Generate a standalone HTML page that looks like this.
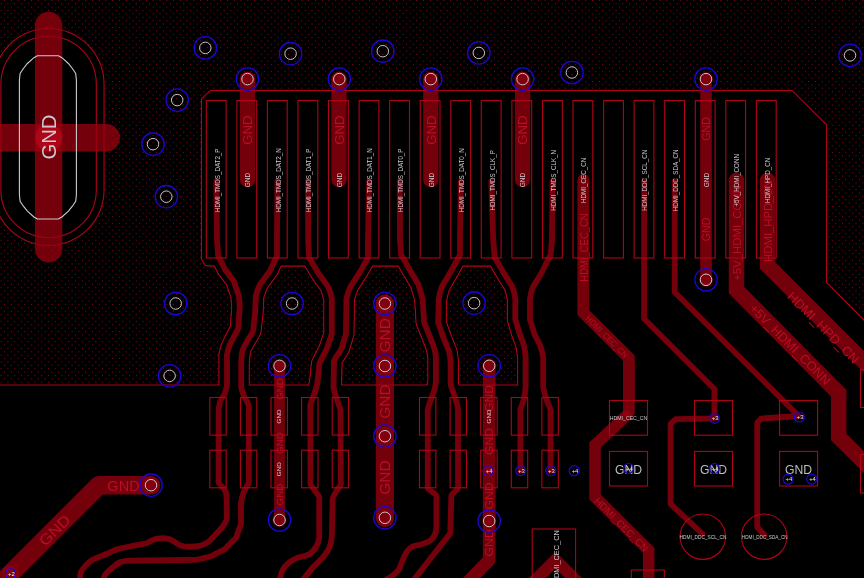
<!DOCTYPE html><html><head><meta charset="utf-8"><style>html,body{margin:0;padding:0;background:#000;overflow:hidden}svg{display:block;will-change:transform}text{font-family:"Liberation Sans",sans-serif}</style></head><body>
<svg width="864" height="578" viewBox="0 0 864 578">
<defs>
<mask id="zc" maskUnits="userSpaceOnUse" x="0" y="0" width="864" height="578"><polygon points="-5.0,-5.0 869.0,-5.0 869.0,325.9 826.0,282.8 826.0,125.0 791.9,91.0 210.6,91.0 202.0,99.2 202.0,259.0 205.5,264.9 213.0,265.6 494.7,265.6 503.5,272.4 512.4,287.0 515.3,298.8 515.3,319.4 519.7,334.0 524.0,346.0 525.6,357.6 525.6,387.0 525.6,385.6 -5.0,385.6" fill="#fff"/></mask>
</defs>
<rect width="864" height="578" fill="#000"/>
<g mask="url(#zc)">
<path d="M-2.71,0.40H870M0.67,3.78H870M-2.71,7.16H870M0.67,10.54H870M-2.71,13.92H870M0.67,17.29H870M-2.71,20.67H870M0.67,24.05H870M-2.71,27.43H870M0.67,30.81H870M-2.71,34.19H870M0.67,37.57H870M-2.71,40.95H870M0.67,44.33H870M-2.71,47.71H870M0.67,51.09H870M-2.71,54.46H870M0.67,57.84H870M-2.71,61.22H870M0.67,64.60H870M-2.71,67.98H870M0.67,71.36H870M-2.71,74.74H870M0.67,78.12H870M-2.71,81.50H870M0.67,84.88H870M-2.71,88.25H870M0.67,91.63H870M-2.71,95.01H870M0.67,98.39H870M-2.71,101.77H870M0.67,105.15H870M-2.71,108.53H870M0.67,111.91H870M-2.71,115.29H870M0.67,118.67H870M-2.71,122.04H870M0.67,125.42H870M-2.71,128.80H870M0.67,132.18H870M-2.71,135.56H870M0.67,138.94H870M-2.71,142.32H870M0.67,145.70H870M-2.71,149.08H870M0.67,152.46H870M-2.71,155.83H870M0.67,159.21H870M-2.71,162.59H870M0.67,165.97H870M-2.71,169.35H870M0.67,172.73H870M-2.71,176.11H870M0.67,179.49H870M-2.71,182.87H870M0.67,186.25H870M-2.71,189.62H870M0.67,193.00H870M-2.71,196.38H870M0.67,199.76H870M-2.71,203.14H870M0.67,206.52H870M-2.71,209.90H870M0.67,213.28H870M-2.71,216.66H870M0.67,220.03H870M-2.71,223.41H870M0.67,226.79H870M-2.71,230.17H870M0.67,233.55H870M-2.71,236.93H870M0.67,240.31H870M-2.71,243.69H870M0.67,247.07H870M-2.71,250.45H870M0.67,253.83H870M-2.71,257.20H870M0.67,260.58H870M-2.71,263.96H870M0.67,267.34H870M-2.71,270.72H870M0.67,274.10H870M-2.71,277.48H870M0.67,280.86H870M-2.71,284.24H870M0.67,287.61H870M-2.71,290.99H870M0.67,294.37H870M-2.71,297.75H870M0.67,301.13H870M-2.71,304.51H870M0.67,307.89H870M-2.71,311.27H870M0.67,314.65H870M-2.71,318.03H870M0.67,321.40H870M-2.71,324.78H870M0.67,328.16H870M-2.71,331.54H870M0.67,334.92H870M-2.71,338.30H870M0.67,341.68H870M-2.71,345.06H870M0.67,348.44H870M-2.71,351.82H870M0.67,355.19H870M-2.71,358.57H870M0.67,361.95H870M-2.71,365.33H870M0.67,368.71H870M-2.71,372.09H870M0.67,375.47H870M-2.71,378.85H870M0.67,382.23H870M-2.71,385.61H870M0.67,388.98H870M-2.71,392.36H870M0.67,395.74H870M-2.71,399.12H870" fill="none" stroke="rgb(140,5,30)" stroke-width="1" stroke-dasharray="1 5.758"/>
<polygon points="-5.0,-5.0 869.0,-5.0 869.0,325.9 826.0,282.8 826.0,125.0 791.9,91.0 210.6,91.0 202.0,99.2 202.0,259.0 205.5,264.9 213.0,265.6 494.7,265.6 503.5,272.4 512.4,287.0 515.3,298.8 515.3,319.4 519.7,334.0 524.0,346.0 525.6,357.6 525.6,387.0 525.6,385.6 -5.0,385.6" fill="none" stroke="rgb(175,4,24)" stroke-width="2.2"/>
<path d="M216.30,181.50C216.31,182.67 216.32,183.15 216.34,185.00C216.43,192.10 216.87,229.40 216.96,236.50C216.98,238.35 216.95,238.84 217.00,240.00C217.05,241.16 217.15,242.06 217.26,243.49C217.43,245.80 217.77,250.20 217.94,252.51C218.05,253.94 217.89,254.90 218.20,256.00C218.51,257.10 219.15,257.87 219.78,259.12C220.75,261.02 222.45,264.38 223.42,266.28C224.05,267.53 224.39,268.41 225.00,269.40C225.61,270.39 226.26,271.09 227.09,272.21C228.33,273.87 230.47,276.73 231.71,278.39C232.54,279.51 233.26,280.18 233.80,281.20C234.34,282.22 234.47,283.17 234.93,284.51C235.64,286.62 236.96,290.48 237.67,292.59C238.13,293.93 238.50,294.43 238.80,295.90C239.35,298.59 239.69,304.84 239.70,307.60C239.70,309.10 239.56,309.55 239.45,311.09C239.22,314.14 238.68,321.66 238.45,324.71C238.34,326.25 238.58,326.82 238.20,328.20C237.56,330.52 235.26,334.06 233.80,337.00C232.33,339.96 230.54,342.89 229.40,345.90C228.30,348.79 227.31,352.41 227.00,354.70C226.81,356.12 227.00,356.53 227.00,358.20C227.00,362.42 227.00,376.28 227.00,380.50C227.00,382.17 227.16,382.57 227.00,384.00C226.75,386.32 226.10,390.24 225.00,393.00C223.94,395.65 221.66,397.59 220.60,400.30C219.46,403.22 218.85,407.56 218.60,410.00C218.45,411.45 218.60,411.61 218.60,413.50C218.60,421.68 218.60,470.62 218.60,478.80C218.60,480.69 218.15,480.94 218.60,482.30C219.42,484.77 224.15,488.14 225.50,491.60C226.84,495.04 226.56,500.29 226.70,503.00C226.78,504.50 226.70,505.05 226.70,506.50C226.70,508.87 226.70,513.53 226.70,515.90C226.70,517.35 227.06,518.05 226.70,519.40C226.11,521.61 223.40,525.60 222.00,527.50C221.15,528.66 220.65,528.96 219.63,530.08C217.76,532.11 213.54,536.69 211.67,538.72C210.65,539.84 210.43,540.44 209.30,541.30C207.48,542.69 204.37,544.58 201.20,545.50C197.28,546.64 191.12,546.86 187.30,546.70C184.59,546.58 182.53,546.30 180.40,545.50C178.30,544.72 176.55,543.09 174.60,542.00C172.68,540.93 171.15,539.61 168.80,539.00C165.67,538.18 160.37,538.13 157.20,538.60C154.90,538.95 153.19,539.79 151.40,540.60C149.74,541.35 148.26,542.67 146.80,543.20C145.61,543.63 144.75,543.58 143.36,543.84C141.23,544.24 137.37,544.96 135.24,545.36C133.85,545.62 132.94,545.77 131.80,546.00C130.66,546.23 129.72,546.45 128.38,546.74C126.45,547.16 123.25,547.84 121.32,548.26C119.98,548.55 119.35,548.54 117.90,549.00C115.15,549.88 108.97,552.86 106.30,554.00C104.89,554.60 104.37,554.82 103.08,555.37C101.11,556.20 97.59,557.70 95.62,558.53C94.33,559.08 93.61,559.16 92.40,559.90C90.46,561.08 87.45,563.44 85.50,565.60C83.61,567.69 81.77,569.96 80.80,572.60C79.77,575.39 80.07,578.87 79.70,582.00" fill="none" stroke="rgb(175,4,24)" stroke-width="16.8" stroke-linejoin="round" stroke-linecap="round"/>
<path d="M277.40,181.50C277.39,182.67 277.39,183.15 277.38,185.00C277.33,192.10 277.07,229.40 277.02,236.50C277.01,238.35 277.00,238.83 277.00,240.00C277.00,241.17 277.00,242.06 277.00,243.50C277.00,245.80 277.00,250.20 277.00,252.50C277.00,253.94 277.25,254.89 277.00,256.00C276.75,257.11 276.13,257.85 275.51,259.17C274.50,261.33 272.50,265.57 271.49,267.73C270.87,269.05 270.59,269.90 270.00,270.90C269.41,271.90 268.79,272.55 267.93,273.72C266.52,275.63 263.78,279.37 262.37,281.28C261.51,282.45 261.02,282.77 260.30,284.10C258.93,286.64 256.48,293.18 255.90,296.00C255.60,297.48 255.80,298.02 255.72,299.50C255.59,302.06 255.31,307.44 255.18,310.00C255.10,311.48 255.10,312.34 255.00,313.50C254.90,314.66 254.77,315.50 254.61,316.98C254.31,319.58 253.69,325.12 253.39,327.72C253.23,329.20 253.47,329.79 253.00,331.20C252.14,333.79 248.80,338.17 247.00,341.50C245.37,344.52 243.57,346.97 242.60,350.30C241.47,354.17 241.36,360.51 241.20,363.50C241.12,365.04 241.20,365.40 241.20,367.00C241.20,370.47 241.20,380.03 241.20,383.50C241.20,385.10 240.98,385.58 241.20,387.00C241.55,389.33 242.80,393.08 244.00,396.00C245.22,398.98 247.79,402.09 248.50,404.70C249.03,406.62 248.76,408.42 248.80,410.00C248.84,411.29 248.80,411.61 248.80,413.50C248.80,421.68 248.80,470.62 248.80,478.80C248.80,480.69 249.14,480.90 248.80,482.30C248.21,484.71 245.28,488.27 244.00,491.60C242.64,495.14 241.35,500.27 241.00,503.00C240.81,504.49 241.00,504.94 241.00,506.50C241.00,509.61 241.00,517.39 241.00,520.50C241.00,522.06 241.20,522.87 241.00,524.00C240.80,525.13 240.29,525.98 239.82,527.29C239.11,529.25 237.89,532.65 237.18,534.61C236.71,535.92 236.61,536.94 236.00,537.90C235.39,538.86 234.54,539.35 233.51,540.36C231.84,542.03 228.56,545.27 226.89,546.94C225.86,547.95 225.34,548.73 224.40,549.40C223.46,550.07 222.55,550.33 221.27,550.97C219.29,551.98 215.61,553.82 213.63,554.83C212.35,555.47 211.59,556.00 210.50,556.40C209.41,556.80 208.44,556.92 207.11,557.25C205.17,557.74 201.93,558.56 199.99,559.05C198.66,559.38 197.75,559.75 196.60,559.90C195.45,560.05 194.98,559.92 193.10,559.94C185.30,560.02 140.70,560.48 132.90,560.56C131.02,560.58 130.84,560.47 129.40,560.60C127.05,560.81 123.06,561.01 120.20,562.20C117.24,563.43 114.54,565.86 112.00,568.00C109.48,570.13 106.54,572.46 105.00,575.00C103.68,577.18 103.53,579.67 102.80,582.00" fill="none" stroke="rgb(175,4,24)" stroke-width="16.8" stroke-linejoin="round" stroke-linecap="round"/>
<path d="M308.00,181.50C308.00,182.67 308.01,183.15 308.01,185.00C308.04,192.10 308.16,229.40 308.19,236.50C308.19,238.35 308.17,238.83 308.20,240.00C308.23,241.17 308.30,242.01 308.38,243.50C308.51,246.07 308.79,251.53 308.92,254.10C309.00,255.59 308.77,256.52 309.10,257.60C309.43,258.68 310.14,259.34 310.89,260.61C312.17,262.77 314.83,267.23 316.11,269.39C316.86,270.66 317.27,271.42 317.90,272.40C318.53,273.38 319.06,274.04 319.92,275.26C321.43,277.40 324.67,282.00 326.18,284.14C327.04,285.36 327.54,285.65 328.20,287.00C329.44,289.53 331.38,296.00 331.80,298.80C332.02,300.29 331.80,300.57 331.80,302.30C331.80,307.20 331.80,325.60 331.80,330.50C331.80,332.23 331.99,332.86 331.80,334.00C331.61,335.14 331.14,335.97 330.68,337.32C329.96,339.44 328.64,343.36 327.92,345.48C327.46,346.83 327.25,347.73 326.80,348.80C326.35,349.87 325.88,350.63 325.23,351.93C324.15,354.06 322.05,358.24 320.97,360.37C320.32,361.67 319.72,362.40 319.40,363.50C319.08,364.60 319.20,365.59 319.07,366.98C318.87,369.05 318.53,372.65 318.33,374.72C318.20,376.11 318.19,376.78 318.00,378.20C317.70,380.47 317.23,384.09 316.50,387.00C315.75,389.99 314.53,392.92 313.50,395.90C312.46,398.92 310.70,402.65 310.30,405.00C310.06,406.41 310.30,406.59 310.31,408.50C310.33,417.17 310.47,471.83 310.49,480.50C310.50,482.41 310.09,482.67 310.50,484.00C311.17,486.19 314.23,489.55 315.80,491.90C317.06,493.78 318.71,495.39 319.20,497.00C319.57,498.22 319.20,498.74 319.20,500.50C319.20,505.97 319.20,528.63 319.20,534.10C319.20,535.86 319.41,536.20 319.20,537.60C318.86,539.82 318.10,543.35 316.60,546.00C314.89,549.02 312.16,552.52 309.00,554.50C305.71,556.56 300.64,556.36 297.10,557.90C293.93,559.28 291.04,560.95 288.60,563.00C286.28,564.95 284.19,567.06 282.70,569.80C281.01,572.92 280.57,577.27 279.50,581.00" fill="none" stroke="rgb(175,4,24)" stroke-width="16.8" stroke-linejoin="round" stroke-linecap="round"/>
<path d="M369.10,181.50C369.08,182.67 369.07,183.15 369.03,185.00C368.90,192.10 368.20,229.40 368.07,236.50C368.03,238.35 368.01,238.83 368.00,240.00C367.99,241.17 368.00,242.02 368.00,243.50C368.00,246.08 368.00,251.52 368.00,254.10C368.00,255.58 368.28,256.51 368.00,257.60C367.72,258.69 366.98,259.42 366.30,260.66C365.25,262.55 363.35,265.95 362.30,267.84C361.62,269.08 361.20,269.90 360.60,270.90C360.00,271.90 359.53,272.57 358.71,273.85C357.19,276.23 353.71,281.67 352.19,284.05C351.37,285.33 350.94,285.63 350.30,287.00C349.09,289.57 346.96,296.00 346.50,298.80C346.25,300.29 346.47,300.57 346.44,302.30C346.36,307.20 346.04,325.60 345.96,330.50C345.93,332.23 346.08,332.86 345.90,334.00C345.72,335.14 345.31,335.99 344.90,337.35C344.27,339.47 343.13,343.33 342.50,345.45C342.09,346.81 342.13,347.40 341.50,348.80C340.23,351.60 334.96,357.74 334.10,360.60C333.67,362.04 334.06,362.46 334.02,364.10C333.93,367.95 333.67,379.65 333.58,383.50C333.54,385.14 333.35,385.58 333.50,387.00C333.74,389.30 334.75,393.03 335.60,395.90C336.43,398.69 337.64,401.50 338.50,404.00C339.24,406.15 340.21,408.25 340.50,410.00C340.71,411.30 340.51,411.60 340.51,413.50C340.55,421.81 340.75,472.19 340.79,480.50C340.79,482.40 341.17,482.66 340.80,484.00C340.20,486.18 337.40,489.34 336.00,491.90C334.74,494.20 333.17,496.68 332.70,498.60C332.38,499.91 332.66,500.35 332.62,502.10C332.50,507.40 332.00,528.80 331.88,534.10C331.84,535.85 331.99,536.14 331.80,537.60C331.47,540.13 330.75,544.53 329.30,547.80C327.74,551.32 324.29,555.72 322.50,557.90C321.54,559.07 321.00,559.40 320.03,560.37C318.62,561.78 316.28,564.12 314.87,565.53C313.90,566.50 313.18,567.13 312.40,568.00C311.62,568.87 311.12,569.60 310.21,570.73C308.70,572.62 305.70,576.38 304.19,578.27C303.28,579.40 302.73,580.09 302.00,581.00" fill="none" stroke="rgb(175,4,24)" stroke-width="16.8" stroke-linejoin="round" stroke-linecap="round"/>
<path d="M399.70,181.50C399.71,182.67 399.71,183.15 399.72,185.00C399.75,192.10 399.95,229.40 399.98,236.50C399.99,238.35 399.95,238.84 400.00,240.00C400.05,241.16 400.17,242.10 400.28,243.49C400.45,245.56 400.75,249.14 400.92,251.21C401.03,252.60 400.87,253.61 401.20,254.70C401.53,255.79 402.19,256.48 402.91,257.76C404.10,259.90 406.50,264.20 407.69,266.34C408.41,267.62 408.82,268.39 409.40,269.40C409.98,270.41 410.44,271.14 411.20,272.40C412.48,274.55 415.12,278.95 416.40,281.10C417.16,282.36 417.73,283.04 418.20,284.10C418.67,285.16 418.80,286.10 419.20,287.45C419.83,289.55 420.97,293.35 421.60,295.45C422.00,296.80 422.40,297.66 422.60,298.80C422.80,299.94 422.72,300.70 422.82,302.29C423.04,305.77 423.66,315.43 423.88,318.91C423.98,320.50 423.84,321.28 424.10,322.40C424.36,323.52 424.88,324.32 425.41,325.65C426.26,327.74 427.84,331.66 428.69,333.75C429.22,335.08 429.45,335.58 430.00,337.00C431.05,339.70 433.41,345.11 434.40,348.80C435.24,351.91 435.71,355.32 435.90,357.60C436.02,359.02 435.90,359.50 435.90,361.10C435.90,364.58 435.90,374.22 435.90,377.70C435.90,379.30 436.02,379.78 435.90,381.20C435.71,383.48 435.20,386.99 434.40,390.00C433.51,393.34 431.72,396.90 430.60,400.30C429.53,403.56 428.15,407.55 427.80,410.00C427.60,411.44 427.80,411.59 427.80,413.50C427.80,422.10 427.80,475.90 427.80,484.50C427.80,486.41 427.24,486.75 427.80,488.00C428.82,490.28 435.38,493.42 436.40,495.70C436.96,496.95 436.40,497.50 436.40,499.20C436.40,503.81 436.40,520.19 436.40,524.80C436.40,526.50 436.58,526.96 436.40,528.30C436.15,530.19 435.56,532.99 434.60,535.00C433.67,536.94 432.64,538.75 430.80,540.20C428.40,542.09 423.95,543.27 420.70,544.40C417.78,545.42 414.56,545.53 412.20,546.80C410.14,547.91 408.56,549.31 407.10,551.20C405.37,553.44 404.27,556.72 402.90,559.70C401.43,562.90 400.38,567.13 398.60,569.80C397.16,571.95 395.65,573.24 393.60,574.90C391.01,577.00 387.20,578.97 384.00,581.00" fill="none" stroke="rgb(175,4,24)" stroke-width="16.8" stroke-linejoin="round" stroke-linecap="round"/>
<path d="M460.80,181.50C460.78,182.67 460.78,183.15 460.75,185.00C460.66,192.10 460.14,229.40 460.05,236.50C460.02,238.35 460.01,238.83 460.00,240.00C459.99,241.17 460.00,242.11 460.00,243.50C460.00,245.57 460.00,249.13 460.00,251.20C460.00,252.59 460.28,253.60 460.00,254.70C459.72,255.80 459.02,256.49 458.33,257.77C457.16,259.91 454.84,264.19 453.67,266.33C452.98,267.61 452.57,268.38 452.00,269.40C451.43,270.42 451.02,271.09 450.25,272.43C448.73,275.03 445.07,281.37 443.55,283.97C442.78,285.31 442.37,285.61 441.80,287.00C440.74,289.60 439.19,296.01 438.80,298.80C438.59,300.30 438.75,300.70 438.71,302.30C438.62,305.78 438.38,315.42 438.29,318.90C438.25,320.50 438.03,321.26 438.20,322.40C438.37,323.54 438.87,324.37 439.33,325.71C440.05,327.80 441.35,331.60 442.07,333.69C442.53,335.03 442.79,335.91 443.20,337.00C443.61,338.09 443.96,338.92 444.50,340.25C445.35,342.38 446.95,346.42 447.80,348.55C448.34,349.88 448.72,350.35 449.10,351.80C449.79,354.46 450.42,360.74 450.60,363.50C450.70,365.00 450.60,365.45 450.60,367.00C450.60,370.04 450.60,377.46 450.60,380.50C450.60,382.05 450.38,382.58 450.60,384.00C450.97,386.33 452.49,389.85 453.50,393.00C454.61,396.48 456.24,400.86 457.00,404.00C457.55,406.28 457.86,408.26 458.00,410.00C458.11,411.32 458.00,411.59 458.00,413.50C458.00,422.10 458.00,475.90 458.00,484.50C458.00,486.41 458.48,486.71 458.00,488.00C457.19,490.20 452.25,493.50 451.40,495.70C450.90,496.99 451.34,497.45 451.29,499.20C451.12,504.36 450.48,524.74 450.31,529.90C450.26,531.65 450.58,532.36 450.20,533.40C449.82,534.44 449.19,534.69 448.04,536.15C443.48,541.95 418.72,573.45 414.16,579.25C413.01,580.71 412.72,581.08 412.00,582.00" fill="none" stroke="rgb(175,4,24)" stroke-width="16.8" stroke-linejoin="round" stroke-linecap="round"/>
<path d="M491.30,181.50C491.34,182.67 491.35,183.15 491.41,185.00C491.64,192.10 492.86,229.40 493.09,236.50C493.15,238.35 493.13,238.84 493.20,240.00C493.27,241.16 493.37,242.01 493.50,243.49C493.72,246.07 494.18,251.53 494.40,254.11C494.53,255.59 494.35,256.52 494.70,257.60C495.05,258.68 495.74,259.34 496.49,260.61C497.77,262.77 500.43,267.23 501.71,269.39C502.46,270.66 502.90,271.40 503.50,272.40C504.10,273.40 504.56,274.13 505.32,275.39C506.62,277.52 509.28,281.88 510.58,284.01C511.34,285.27 511.82,285.61 512.40,287.00C513.47,289.58 514.96,296.01 515.30,298.80C515.48,300.30 515.30,300.75 515.30,302.30C515.30,305.35 515.30,312.85 515.30,315.90C515.30,317.45 515.13,318.26 515.30,319.40C515.47,320.54 515.90,321.40 516.31,322.75C516.94,324.83 518.06,328.57 518.69,330.65C519.10,332.00 519.22,332.55 519.70,334.00C520.61,336.77 523.01,341.98 524.00,346.00C524.94,349.85 525.41,354.85 525.60,357.60C525.70,359.10 525.60,359.43 525.60,361.10C525.60,365.33 525.60,379.27 525.60,383.50C525.60,385.17 525.70,385.49 525.60,387.00C525.41,389.78 524.87,394.96 524.00,398.80C523.13,402.62 520.82,407.30 520.40,410.00C520.17,411.47 520.40,411.64 520.40,413.50C520.40,420.81 520.40,460.19 520.40,467.50C520.40,469.36 520.40,469.83 520.40,471.00" fill="none" stroke="rgb(175,4,24)" stroke-width="16.8" stroke-linejoin="round" stroke-linecap="round"/>
<path d="M552.50,181.50C552.49,182.67 552.49,183.15 552.47,185.00C552.41,192.10 552.09,229.40 552.03,236.50C552.01,238.35 552.06,238.84 552.00,240.00C551.94,241.16 551.80,242.09 551.67,243.48C551.47,245.55 551.13,249.15 550.93,251.22C550.80,252.61 550.91,253.60 550.60,254.70C550.29,255.80 549.72,256.46 549.04,257.83C547.74,260.45 544.66,266.65 543.36,269.27C542.68,270.64 542.36,271.38 541.80,272.40C541.24,273.42 540.75,274.14 539.99,275.40C538.71,277.53 536.09,281.87 534.81,284.00C534.05,285.26 533.58,285.61 533.00,287.00C531.92,289.59 530.35,296.01 530.00,298.80C529.81,300.30 530.00,300.75 530.00,302.30C530.00,305.35 530.00,312.85 530.00,315.90C530.00,317.45 529.83,318.26 530.00,319.40C530.17,320.54 530.60,321.40 531.01,322.75C531.64,324.83 532.76,328.57 533.39,330.65C533.80,332.00 533.84,332.57 534.40,334.00C535.50,336.80 538.82,341.95 540.30,346.00C541.70,349.83 542.86,354.84 543.20,357.60C543.38,359.09 543.20,359.43 543.20,361.10C543.20,365.33 543.20,379.27 543.20,383.50C543.20,385.17 543.01,385.50 543.20,387.00C543.55,389.79 544.98,394.95 546.20,398.80C547.41,402.62 550.00,407.29 550.50,410.00C550.77,411.46 550.50,411.64 550.50,413.50C550.50,420.81 550.50,460.19 550.50,467.50C550.50,469.36 550.50,469.83 550.50,471.00" fill="none" stroke="rgb(175,4,24)" stroke-width="16.8" stroke-linejoin="round" stroke-linecap="round"/>
<polyline points="644.1,181.5 644.1,318.7 714.4,389.0 714.4,418.3 675.8,419.2 670.6,424.0 670.6,504.0 702.5,534.0" fill="none" stroke="rgb(175,4,24)" stroke-width="16.8" stroke-linejoin="round" stroke-linecap="round"/>
<polyline points="674.7,181.5 674.7,292.2 798.5,416.0 761.0,418.6 757.2,423.0 757.2,527.0 764.5,535.0" fill="none" stroke="rgb(175,4,24)" stroke-width="16.8" stroke-linejoin="round" stroke-linecap="round"/>
<polygon points="218.2,256.0 225.0,269.4 233.8,281.2 238.8,295.9 239.7,307.6 238.2,328.2 233.8,337.0 229.4,345.9 227.0,354.7 227.0,384.0 241.2,387.0 241.2,363.5 242.6,350.3 247.0,341.5 253.0,331.2 255.0,313.5 255.9,296.0 260.3,284.1 270.0,270.9 277.0,256.0" fill="rgb(175,4,24)" stroke="rgb(175,4,24)" stroke-width="16.8" stroke-linejoin="round"/>
<polygon points="309.1,257.6 317.9,272.4 328.2,287.0 331.8,298.8 331.8,334.0 326.8,348.8 319.4,363.5 318.0,378.2 316.5,387.0 333.5,387.0 334.1,360.6 341.5,348.8 345.9,334.0 346.5,298.8 350.3,287.0 360.6,270.9 368.0,257.6" fill="rgb(175,4,24)" stroke="rgb(175,4,24)" stroke-width="16.8" stroke-linejoin="round"/>
<polygon points="401.2,254.7 409.4,269.4 418.2,284.1 422.6,298.8 424.1,322.4 430.0,337.0 434.4,348.8 435.9,357.6 435.9,381.2 434.4,390.0 450.6,384.0 450.6,363.5 449.1,351.8 443.2,337.0 438.2,322.4 438.8,298.8 441.8,287.0 452.0,269.4 460.0,254.7" fill="rgb(175,4,24)" stroke="rgb(175,4,24)" stroke-width="16.8" stroke-linejoin="round"/>
<polygon points="494.7,257.6 503.5,272.4 512.4,287.0 515.3,298.8 515.3,319.4 519.7,334.0 524.0,346.0 525.6,357.6 525.6,387.0 543.2,387.0 543.2,357.6 540.3,346.0 534.4,334.0 530.0,319.4 530.0,298.8 533.0,287.0 541.8,272.4 550.6,254.7" fill="rgb(175,4,24)" stroke="rgb(175,4,24)" stroke-width="16.8" stroke-linejoin="round"/>
<polyline points="583.3,180.0 583.3,312.6 628.9,358.0 628.9,412.0" fill="none" stroke="rgb(175,4,24)" stroke-width="22.8" stroke-linejoin="round" stroke-linecap="round"/>
<polyline points="626.0,416.0 595.0,445.0 595.0,497.0 648.7,550.3 648.7,582.0" fill="none" stroke="rgb(175,4,24)" stroke-width="22.5" stroke-linejoin="round" stroke-linecap="round"/>
<polyline points="529.5,586.0 555.5,560.0 581.5,586.0" fill="none" stroke="rgb(175,4,24)" stroke-width="23.0" stroke-linejoin="round" stroke-linecap="round"/>
<polyline points="736.5,180.6 736.5,290.0 838.7,393.3 838.7,437.0 870.0,468.0" fill="none" stroke="rgb(175,4,24)" stroke-width="26.5" stroke-linejoin="round" stroke-linecap="round"/>
<polyline points="767.6,180.6 767.6,265.5 870.0,367.9" fill="none" stroke="rgb(175,4,24)" stroke-width="26.5" stroke-linejoin="round" stroke-linecap="round"/>
<path d="M-7.399999999999999,84 A56.0,56.0 0 0 1 104.6,84 L104.6,190 A56.0,56.0 0 0 1 -7.399999999999999,190 Z" fill="rgb(175,4,24)"/>
<path d="M216.30,181.50C216.31,182.67 216.32,183.15 216.34,185.00C216.43,192.10 216.87,229.40 216.96,236.50C216.98,238.35 216.95,238.84 217.00,240.00C217.05,241.16 217.15,242.06 217.26,243.49C217.43,245.80 217.77,250.20 217.94,252.51C218.05,253.94 217.89,254.90 218.20,256.00C218.51,257.10 219.15,257.87 219.78,259.12C220.75,261.02 222.45,264.38 223.42,266.28C224.05,267.53 224.39,268.41 225.00,269.40C225.61,270.39 226.26,271.09 227.09,272.21C228.33,273.87 230.47,276.73 231.71,278.39C232.54,279.51 233.26,280.18 233.80,281.20C234.34,282.22 234.47,283.17 234.93,284.51C235.64,286.62 236.96,290.48 237.67,292.59C238.13,293.93 238.50,294.43 238.80,295.90C239.35,298.59 239.69,304.84 239.70,307.60C239.70,309.10 239.56,309.55 239.45,311.09C239.22,314.14 238.68,321.66 238.45,324.71C238.34,326.25 238.58,326.82 238.20,328.20C237.56,330.52 235.26,334.06 233.80,337.00C232.33,339.96 230.54,342.89 229.40,345.90C228.30,348.79 227.31,352.41 227.00,354.70C226.81,356.12 227.00,356.53 227.00,358.20C227.00,362.42 227.00,376.28 227.00,380.50C227.00,382.17 227.16,382.57 227.00,384.00C226.75,386.32 226.10,390.24 225.00,393.00C223.94,395.65 221.66,397.59 220.60,400.30C219.46,403.22 218.85,407.56 218.60,410.00C218.45,411.45 218.60,411.61 218.60,413.50C218.60,421.68 218.60,470.62 218.60,478.80C218.60,480.69 218.15,480.94 218.60,482.30C219.42,484.77 224.15,488.14 225.50,491.60C226.84,495.04 226.56,500.29 226.70,503.00C226.78,504.50 226.70,505.05 226.70,506.50C226.70,508.87 226.70,513.53 226.70,515.90C226.70,517.35 227.06,518.05 226.70,519.40C226.11,521.61 223.40,525.60 222.00,527.50C221.15,528.66 220.65,528.96 219.63,530.08C217.76,532.11 213.54,536.69 211.67,538.72C210.65,539.84 210.43,540.44 209.30,541.30C207.48,542.69 204.37,544.58 201.20,545.50C197.28,546.64 191.12,546.86 187.30,546.70C184.59,546.58 182.53,546.30 180.40,545.50C178.30,544.72 176.55,543.09 174.60,542.00C172.68,540.93 171.15,539.61 168.80,539.00C165.67,538.18 160.37,538.13 157.20,538.60C154.90,538.95 153.19,539.79 151.40,540.60C149.74,541.35 148.26,542.67 146.80,543.20C145.61,543.63 144.75,543.58 143.36,543.84C141.23,544.24 137.37,544.96 135.24,545.36C133.85,545.62 132.94,545.77 131.80,546.00C130.66,546.23 129.72,546.45 128.38,546.74C126.45,547.16 123.25,547.84 121.32,548.26C119.98,548.55 119.35,548.54 117.90,549.00C115.15,549.88 108.97,552.86 106.30,554.00C104.89,554.60 104.37,554.82 103.08,555.37C101.11,556.20 97.59,557.70 95.62,558.53C94.33,559.08 93.61,559.16 92.40,559.90C90.46,561.08 87.45,563.44 85.50,565.60C83.61,567.69 81.77,569.96 80.80,572.60C79.77,575.39 80.07,578.87 79.70,582.00" fill="none" stroke="#000" stroke-width="14.6" stroke-linejoin="round" stroke-linecap="round"/>
<path d="M277.40,181.50C277.39,182.67 277.39,183.15 277.38,185.00C277.33,192.10 277.07,229.40 277.02,236.50C277.01,238.35 277.00,238.83 277.00,240.00C277.00,241.17 277.00,242.06 277.00,243.50C277.00,245.80 277.00,250.20 277.00,252.50C277.00,253.94 277.25,254.89 277.00,256.00C276.75,257.11 276.13,257.85 275.51,259.17C274.50,261.33 272.50,265.57 271.49,267.73C270.87,269.05 270.59,269.90 270.00,270.90C269.41,271.90 268.79,272.55 267.93,273.72C266.52,275.63 263.78,279.37 262.37,281.28C261.51,282.45 261.02,282.77 260.30,284.10C258.93,286.64 256.48,293.18 255.90,296.00C255.60,297.48 255.80,298.02 255.72,299.50C255.59,302.06 255.31,307.44 255.18,310.00C255.10,311.48 255.10,312.34 255.00,313.50C254.90,314.66 254.77,315.50 254.61,316.98C254.31,319.58 253.69,325.12 253.39,327.72C253.23,329.20 253.47,329.79 253.00,331.20C252.14,333.79 248.80,338.17 247.00,341.50C245.37,344.52 243.57,346.97 242.60,350.30C241.47,354.17 241.36,360.51 241.20,363.50C241.12,365.04 241.20,365.40 241.20,367.00C241.20,370.47 241.20,380.03 241.20,383.50C241.20,385.10 240.98,385.58 241.20,387.00C241.55,389.33 242.80,393.08 244.00,396.00C245.22,398.98 247.79,402.09 248.50,404.70C249.03,406.62 248.76,408.42 248.80,410.00C248.84,411.29 248.80,411.61 248.80,413.50C248.80,421.68 248.80,470.62 248.80,478.80C248.80,480.69 249.14,480.90 248.80,482.30C248.21,484.71 245.28,488.27 244.00,491.60C242.64,495.14 241.35,500.27 241.00,503.00C240.81,504.49 241.00,504.94 241.00,506.50C241.00,509.61 241.00,517.39 241.00,520.50C241.00,522.06 241.20,522.87 241.00,524.00C240.80,525.13 240.29,525.98 239.82,527.29C239.11,529.25 237.89,532.65 237.18,534.61C236.71,535.92 236.61,536.94 236.00,537.90C235.39,538.86 234.54,539.35 233.51,540.36C231.84,542.03 228.56,545.27 226.89,546.94C225.86,547.95 225.34,548.73 224.40,549.40C223.46,550.07 222.55,550.33 221.27,550.97C219.29,551.98 215.61,553.82 213.63,554.83C212.35,555.47 211.59,556.00 210.50,556.40C209.41,556.80 208.44,556.92 207.11,557.25C205.17,557.74 201.93,558.56 199.99,559.05C198.66,559.38 197.75,559.75 196.60,559.90C195.45,560.05 194.98,559.92 193.10,559.94C185.30,560.02 140.70,560.48 132.90,560.56C131.02,560.58 130.84,560.47 129.40,560.60C127.05,560.81 123.06,561.01 120.20,562.20C117.24,563.43 114.54,565.86 112.00,568.00C109.48,570.13 106.54,572.46 105.00,575.00C103.68,577.18 103.53,579.67 102.80,582.00" fill="none" stroke="#000" stroke-width="14.6" stroke-linejoin="round" stroke-linecap="round"/>
<path d="M308.00,181.50C308.00,182.67 308.01,183.15 308.01,185.00C308.04,192.10 308.16,229.40 308.19,236.50C308.19,238.35 308.17,238.83 308.20,240.00C308.23,241.17 308.30,242.01 308.38,243.50C308.51,246.07 308.79,251.53 308.92,254.10C309.00,255.59 308.77,256.52 309.10,257.60C309.43,258.68 310.14,259.34 310.89,260.61C312.17,262.77 314.83,267.23 316.11,269.39C316.86,270.66 317.27,271.42 317.90,272.40C318.53,273.38 319.06,274.04 319.92,275.26C321.43,277.40 324.67,282.00 326.18,284.14C327.04,285.36 327.54,285.65 328.20,287.00C329.44,289.53 331.38,296.00 331.80,298.80C332.02,300.29 331.80,300.57 331.80,302.30C331.80,307.20 331.80,325.60 331.80,330.50C331.80,332.23 331.99,332.86 331.80,334.00C331.61,335.14 331.14,335.97 330.68,337.32C329.96,339.44 328.64,343.36 327.92,345.48C327.46,346.83 327.25,347.73 326.80,348.80C326.35,349.87 325.88,350.63 325.23,351.93C324.15,354.06 322.05,358.24 320.97,360.37C320.32,361.67 319.72,362.40 319.40,363.50C319.08,364.60 319.20,365.59 319.07,366.98C318.87,369.05 318.53,372.65 318.33,374.72C318.20,376.11 318.19,376.78 318.00,378.20C317.70,380.47 317.23,384.09 316.50,387.00C315.75,389.99 314.53,392.92 313.50,395.90C312.46,398.92 310.70,402.65 310.30,405.00C310.06,406.41 310.30,406.59 310.31,408.50C310.33,417.17 310.47,471.83 310.49,480.50C310.50,482.41 310.09,482.67 310.50,484.00C311.17,486.19 314.23,489.55 315.80,491.90C317.06,493.78 318.71,495.39 319.20,497.00C319.57,498.22 319.20,498.74 319.20,500.50C319.20,505.97 319.20,528.63 319.20,534.10C319.20,535.86 319.41,536.20 319.20,537.60C318.86,539.82 318.10,543.35 316.60,546.00C314.89,549.02 312.16,552.52 309.00,554.50C305.71,556.56 300.64,556.36 297.10,557.90C293.93,559.28 291.04,560.95 288.60,563.00C286.28,564.95 284.19,567.06 282.70,569.80C281.01,572.92 280.57,577.27 279.50,581.00" fill="none" stroke="#000" stroke-width="14.6" stroke-linejoin="round" stroke-linecap="round"/>
<path d="M369.10,181.50C369.08,182.67 369.07,183.15 369.03,185.00C368.90,192.10 368.20,229.40 368.07,236.50C368.03,238.35 368.01,238.83 368.00,240.00C367.99,241.17 368.00,242.02 368.00,243.50C368.00,246.08 368.00,251.52 368.00,254.10C368.00,255.58 368.28,256.51 368.00,257.60C367.72,258.69 366.98,259.42 366.30,260.66C365.25,262.55 363.35,265.95 362.30,267.84C361.62,269.08 361.20,269.90 360.60,270.90C360.00,271.90 359.53,272.57 358.71,273.85C357.19,276.23 353.71,281.67 352.19,284.05C351.37,285.33 350.94,285.63 350.30,287.00C349.09,289.57 346.96,296.00 346.50,298.80C346.25,300.29 346.47,300.57 346.44,302.30C346.36,307.20 346.04,325.60 345.96,330.50C345.93,332.23 346.08,332.86 345.90,334.00C345.72,335.14 345.31,335.99 344.90,337.35C344.27,339.47 343.13,343.33 342.50,345.45C342.09,346.81 342.13,347.40 341.50,348.80C340.23,351.60 334.96,357.74 334.10,360.60C333.67,362.04 334.06,362.46 334.02,364.10C333.93,367.95 333.67,379.65 333.58,383.50C333.54,385.14 333.35,385.58 333.50,387.00C333.74,389.30 334.75,393.03 335.60,395.90C336.43,398.69 337.64,401.50 338.50,404.00C339.24,406.15 340.21,408.25 340.50,410.00C340.71,411.30 340.51,411.60 340.51,413.50C340.55,421.81 340.75,472.19 340.79,480.50C340.79,482.40 341.17,482.66 340.80,484.00C340.20,486.18 337.40,489.34 336.00,491.90C334.74,494.20 333.17,496.68 332.70,498.60C332.38,499.91 332.66,500.35 332.62,502.10C332.50,507.40 332.00,528.80 331.88,534.10C331.84,535.85 331.99,536.14 331.80,537.60C331.47,540.13 330.75,544.53 329.30,547.80C327.74,551.32 324.29,555.72 322.50,557.90C321.54,559.07 321.00,559.40 320.03,560.37C318.62,561.78 316.28,564.12 314.87,565.53C313.90,566.50 313.18,567.13 312.40,568.00C311.62,568.87 311.12,569.60 310.21,570.73C308.70,572.62 305.70,576.38 304.19,578.27C303.28,579.40 302.73,580.09 302.00,581.00" fill="none" stroke="#000" stroke-width="14.6" stroke-linejoin="round" stroke-linecap="round"/>
<path d="M399.70,181.50C399.71,182.67 399.71,183.15 399.72,185.00C399.75,192.10 399.95,229.40 399.98,236.50C399.99,238.35 399.95,238.84 400.00,240.00C400.05,241.16 400.17,242.10 400.28,243.49C400.45,245.56 400.75,249.14 400.92,251.21C401.03,252.60 400.87,253.61 401.20,254.70C401.53,255.79 402.19,256.48 402.91,257.76C404.10,259.90 406.50,264.20 407.69,266.34C408.41,267.62 408.82,268.39 409.40,269.40C409.98,270.41 410.44,271.14 411.20,272.40C412.48,274.55 415.12,278.95 416.40,281.10C417.16,282.36 417.73,283.04 418.20,284.10C418.67,285.16 418.80,286.10 419.20,287.45C419.83,289.55 420.97,293.35 421.60,295.45C422.00,296.80 422.40,297.66 422.60,298.80C422.80,299.94 422.72,300.70 422.82,302.29C423.04,305.77 423.66,315.43 423.88,318.91C423.98,320.50 423.84,321.28 424.10,322.40C424.36,323.52 424.88,324.32 425.41,325.65C426.26,327.74 427.84,331.66 428.69,333.75C429.22,335.08 429.45,335.58 430.00,337.00C431.05,339.70 433.41,345.11 434.40,348.80C435.24,351.91 435.71,355.32 435.90,357.60C436.02,359.02 435.90,359.50 435.90,361.10C435.90,364.58 435.90,374.22 435.90,377.70C435.90,379.30 436.02,379.78 435.90,381.20C435.71,383.48 435.20,386.99 434.40,390.00C433.51,393.34 431.72,396.90 430.60,400.30C429.53,403.56 428.15,407.55 427.80,410.00C427.60,411.44 427.80,411.59 427.80,413.50C427.80,422.10 427.80,475.90 427.80,484.50C427.80,486.41 427.24,486.75 427.80,488.00C428.82,490.28 435.38,493.42 436.40,495.70C436.96,496.95 436.40,497.50 436.40,499.20C436.40,503.81 436.40,520.19 436.40,524.80C436.40,526.50 436.58,526.96 436.40,528.30C436.15,530.19 435.56,532.99 434.60,535.00C433.67,536.94 432.64,538.75 430.80,540.20C428.40,542.09 423.95,543.27 420.70,544.40C417.78,545.42 414.56,545.53 412.20,546.80C410.14,547.91 408.56,549.31 407.10,551.20C405.37,553.44 404.27,556.72 402.90,559.70C401.43,562.90 400.38,567.13 398.60,569.80C397.16,571.95 395.65,573.24 393.60,574.90C391.01,577.00 387.20,578.97 384.00,581.00" fill="none" stroke="#000" stroke-width="14.6" stroke-linejoin="round" stroke-linecap="round"/>
<path d="M460.80,181.50C460.78,182.67 460.78,183.15 460.75,185.00C460.66,192.10 460.14,229.40 460.05,236.50C460.02,238.35 460.01,238.83 460.00,240.00C459.99,241.17 460.00,242.11 460.00,243.50C460.00,245.57 460.00,249.13 460.00,251.20C460.00,252.59 460.28,253.60 460.00,254.70C459.72,255.80 459.02,256.49 458.33,257.77C457.16,259.91 454.84,264.19 453.67,266.33C452.98,267.61 452.57,268.38 452.00,269.40C451.43,270.42 451.02,271.09 450.25,272.43C448.73,275.03 445.07,281.37 443.55,283.97C442.78,285.31 442.37,285.61 441.80,287.00C440.74,289.60 439.19,296.01 438.80,298.80C438.59,300.30 438.75,300.70 438.71,302.30C438.62,305.78 438.38,315.42 438.29,318.90C438.25,320.50 438.03,321.26 438.20,322.40C438.37,323.54 438.87,324.37 439.33,325.71C440.05,327.80 441.35,331.60 442.07,333.69C442.53,335.03 442.79,335.91 443.20,337.00C443.61,338.09 443.96,338.92 444.50,340.25C445.35,342.38 446.95,346.42 447.80,348.55C448.34,349.88 448.72,350.35 449.10,351.80C449.79,354.46 450.42,360.74 450.60,363.50C450.70,365.00 450.60,365.45 450.60,367.00C450.60,370.04 450.60,377.46 450.60,380.50C450.60,382.05 450.38,382.58 450.60,384.00C450.97,386.33 452.49,389.85 453.50,393.00C454.61,396.48 456.24,400.86 457.00,404.00C457.55,406.28 457.86,408.26 458.00,410.00C458.11,411.32 458.00,411.59 458.00,413.50C458.00,422.10 458.00,475.90 458.00,484.50C458.00,486.41 458.48,486.71 458.00,488.00C457.19,490.20 452.25,493.50 451.40,495.70C450.90,496.99 451.34,497.45 451.29,499.20C451.12,504.36 450.48,524.74 450.31,529.90C450.26,531.65 450.58,532.36 450.20,533.40C449.82,534.44 449.19,534.69 448.04,536.15C443.48,541.95 418.72,573.45 414.16,579.25C413.01,580.71 412.72,581.08 412.00,582.00" fill="none" stroke="#000" stroke-width="14.6" stroke-linejoin="round" stroke-linecap="round"/>
<path d="M491.30,181.50C491.34,182.67 491.35,183.15 491.41,185.00C491.64,192.10 492.86,229.40 493.09,236.50C493.15,238.35 493.13,238.84 493.20,240.00C493.27,241.16 493.37,242.01 493.50,243.49C493.72,246.07 494.18,251.53 494.40,254.11C494.53,255.59 494.35,256.52 494.70,257.60C495.05,258.68 495.74,259.34 496.49,260.61C497.77,262.77 500.43,267.23 501.71,269.39C502.46,270.66 502.90,271.40 503.50,272.40C504.10,273.40 504.56,274.13 505.32,275.39C506.62,277.52 509.28,281.88 510.58,284.01C511.34,285.27 511.82,285.61 512.40,287.00C513.47,289.58 514.96,296.01 515.30,298.80C515.48,300.30 515.30,300.75 515.30,302.30C515.30,305.35 515.30,312.85 515.30,315.90C515.30,317.45 515.13,318.26 515.30,319.40C515.47,320.54 515.90,321.40 516.31,322.75C516.94,324.83 518.06,328.57 518.69,330.65C519.10,332.00 519.22,332.55 519.70,334.00C520.61,336.77 523.01,341.98 524.00,346.00C524.94,349.85 525.41,354.85 525.60,357.60C525.70,359.10 525.60,359.43 525.60,361.10C525.60,365.33 525.60,379.27 525.60,383.50C525.60,385.17 525.70,385.49 525.60,387.00C525.41,389.78 524.87,394.96 524.00,398.80C523.13,402.62 520.82,407.30 520.40,410.00C520.17,411.47 520.40,411.64 520.40,413.50C520.40,420.81 520.40,460.19 520.40,467.50C520.40,469.36 520.40,469.83 520.40,471.00" fill="none" stroke="#000" stroke-width="14.6" stroke-linejoin="round" stroke-linecap="round"/>
<path d="M552.50,181.50C552.49,182.67 552.49,183.15 552.47,185.00C552.41,192.10 552.09,229.40 552.03,236.50C552.01,238.35 552.06,238.84 552.00,240.00C551.94,241.16 551.80,242.09 551.67,243.48C551.47,245.55 551.13,249.15 550.93,251.22C550.80,252.61 550.91,253.60 550.60,254.70C550.29,255.80 549.72,256.46 549.04,257.83C547.74,260.45 544.66,266.65 543.36,269.27C542.68,270.64 542.36,271.38 541.80,272.40C541.24,273.42 540.75,274.14 539.99,275.40C538.71,277.53 536.09,281.87 534.81,284.00C534.05,285.26 533.58,285.61 533.00,287.00C531.92,289.59 530.35,296.01 530.00,298.80C529.81,300.30 530.00,300.75 530.00,302.30C530.00,305.35 530.00,312.85 530.00,315.90C530.00,317.45 529.83,318.26 530.00,319.40C530.17,320.54 530.60,321.40 531.01,322.75C531.64,324.83 532.76,328.57 533.39,330.65C533.80,332.00 533.84,332.57 534.40,334.00C535.50,336.80 538.82,341.95 540.30,346.00C541.70,349.83 542.86,354.84 543.20,357.60C543.38,359.09 543.20,359.43 543.20,361.10C543.20,365.33 543.20,379.27 543.20,383.50C543.20,385.17 543.01,385.50 543.20,387.00C543.55,389.79 544.98,394.95 546.20,398.80C547.41,402.62 550.00,407.29 550.50,410.00C550.77,411.46 550.50,411.64 550.50,413.50C550.50,420.81 550.50,460.19 550.50,467.50C550.50,469.36 550.50,469.83 550.50,471.00" fill="none" stroke="#000" stroke-width="14.6" stroke-linejoin="round" stroke-linecap="round"/>
<polyline points="644.1,181.5 644.1,318.7 714.4,389.0 714.4,418.3 675.8,419.2 670.6,424.0 670.6,504.0 702.5,534.0" fill="none" stroke="#000" stroke-width="14.6" stroke-linejoin="round" stroke-linecap="round"/>
<polyline points="674.7,181.5 674.7,292.2 798.5,416.0 761.0,418.6 757.2,423.0 757.2,527.0 764.5,535.0" fill="none" stroke="#000" stroke-width="14.6" stroke-linejoin="round" stroke-linecap="round"/>
<polygon points="218.2,256.0 225.0,269.4 233.8,281.2 238.8,295.9 239.7,307.6 238.2,328.2 233.8,337.0 229.4,345.9 227.0,354.7 227.0,384.0 241.2,387.0 241.2,363.5 242.6,350.3 247.0,341.5 253.0,331.2 255.0,313.5 255.9,296.0 260.3,284.1 270.0,270.9 277.0,256.0" fill="#000" stroke="#000" stroke-width="14.6" stroke-linejoin="round"/>
<polygon points="309.1,257.6 317.9,272.4 328.2,287.0 331.8,298.8 331.8,334.0 326.8,348.8 319.4,363.5 318.0,378.2 316.5,387.0 333.5,387.0 334.1,360.6 341.5,348.8 345.9,334.0 346.5,298.8 350.3,287.0 360.6,270.9 368.0,257.6" fill="#000" stroke="#000" stroke-width="14.6" stroke-linejoin="round"/>
<polygon points="401.2,254.7 409.4,269.4 418.2,284.1 422.6,298.8 424.1,322.4 430.0,337.0 434.4,348.8 435.9,357.6 435.9,381.2 434.4,390.0 450.6,384.0 450.6,363.5 449.1,351.8 443.2,337.0 438.2,322.4 438.8,298.8 441.8,287.0 452.0,269.4 460.0,254.7" fill="#000" stroke="#000" stroke-width="14.6" stroke-linejoin="round"/>
<polygon points="494.7,257.6 503.5,272.4 512.4,287.0 515.3,298.8 515.3,319.4 519.7,334.0 524.0,346.0 525.6,357.6 525.6,387.0 543.2,387.0 543.2,357.6 540.3,346.0 534.4,334.0 530.0,319.4 530.0,298.8 533.0,287.0 541.8,272.4 550.6,254.7" fill="#000" stroke="#000" stroke-width="14.6" stroke-linejoin="round"/>
<polyline points="583.3,180.0 583.3,312.6 628.9,358.0 628.9,412.0" fill="none" stroke="#000" stroke-width="20.6" stroke-linejoin="round" stroke-linecap="round"/>
<polyline points="626.0,416.0 595.0,445.0 595.0,497.0 648.7,550.3 648.7,582.0" fill="none" stroke="#000" stroke-width="20.3" stroke-linejoin="round" stroke-linecap="round"/>
<polyline points="529.5,586.0 555.5,560.0 581.5,586.0" fill="none" stroke="#000" stroke-width="20.8" stroke-linejoin="round" stroke-linecap="round"/>
<polyline points="736.5,180.6 736.5,290.0 838.7,393.3 838.7,437.0 870.0,468.0" fill="none" stroke="#000" stroke-width="24.3" stroke-linejoin="round" stroke-linecap="round"/>
<polyline points="767.6,180.6 767.6,265.5 870.0,367.9" fill="none" stroke="#000" stroke-width="24.3" stroke-linejoin="round" stroke-linecap="round"/>
<path d="M-6.299999999999997,84 A54.9,54.9 0 0 1 103.5,84 L103.5,190 A54.9,54.9 0 0 1 -6.299999999999997,190 Z" fill="#000"/>
</g>
<path d="M0.8999999999999986,84 A47.7,47.7 0 0 1 96.30000000000001,84 L96.30000000000001,190 A47.7,47.7 0 0 1 0.8999999999999986,190 Z" fill="none" stroke="rgb(175,4,24)" stroke-width="1.1"/>
<polyline points="48.6,25.4 48.6,248.7" fill="none" stroke="rgb(152,0,16)" stroke-opacity="0.76" stroke-width="27.4" stroke-linejoin="round" stroke-linecap="round"/>
<polyline points="-20.0,137.8 106.3,137.8" fill="none" stroke="rgb(152,0,16)" stroke-opacity="0.76" stroke-width="27.4" stroke-linejoin="round" stroke-linecap="round"/>
<polyline points="247.5,79.3 247.5,179.7" fill="none" stroke="rgb(152,0,16)" stroke-opacity="0.76" stroke-width="15.3" stroke-linejoin="round" stroke-linecap="round"/>
<polyline points="339.0,79.3 339.0,179.7" fill="none" stroke="rgb(152,0,16)" stroke-opacity="0.76" stroke-width="15.3" stroke-linejoin="round" stroke-linecap="round"/>
<polyline points="430.8,79.3 430.8,179.7" fill="none" stroke="rgb(152,0,16)" stroke-opacity="0.76" stroke-width="15.3" stroke-linejoin="round" stroke-linecap="round"/>
<polyline points="522.6,79.3 522.6,179.7" fill="none" stroke="rgb(152,0,16)" stroke-opacity="0.76" stroke-width="15.3" stroke-linejoin="round" stroke-linecap="round"/>
<polyline points="706.0,79.3 706.0,279.8" fill="none" stroke="rgb(152,0,16)" stroke-opacity="0.76" stroke-width="11.6" stroke-linejoin="round" stroke-linecap="round"/>
<polyline points="279.5,365.9 279.5,520.0" fill="none" stroke="rgb(152,0,16)" stroke-opacity="0.76" stroke-width="10.8" stroke-linejoin="round" stroke-linecap="round"/>
<polyline points="384.9,303.5 384.9,517.8" fill="none" stroke="rgb(152,0,16)" stroke-opacity="0.76" stroke-width="18.2" stroke-linejoin="round" stroke-linecap="round"/>
<polyline points="489.2,365.8 489.2,560.0 468.0,582.0" fill="none" stroke="rgb(152,0,16)" stroke-opacity="0.76" stroke-width="12.7" stroke-linejoin="round" stroke-linecap="round"/>
<polyline points="151.0,485.3 98.8,485.3 -2.0,586.1" fill="none" stroke="rgb(152,0,16)" stroke-opacity="0.76" stroke-width="18.6" stroke-linejoin="round" stroke-linecap="round"/>
<polyline points="583.3,180.0 583.3,312.6 628.9,358.0 628.9,412.0" fill="none" stroke="rgb(152,0,16)" stroke-opacity="0.76" stroke-width="11.8" stroke-linejoin="miter" stroke-linecap="round"/>
<polyline points="626.0,416.0 595.0,445.0 595.0,497.0 648.7,550.3 648.7,582.0" fill="none" stroke="rgb(152,0,16)" stroke-opacity="0.76" stroke-width="11.5" stroke-linejoin="miter" stroke-linecap="round"/>
<polyline points="529.5,586.0 555.5,560.0 581.5,586.0" fill="none" stroke="rgb(152,0,16)" stroke-opacity="0.76" stroke-width="12" stroke-linejoin="miter" stroke-linecap="round"/>
<polyline points="736.5,180.6 736.5,290.0 838.7,393.3 838.7,437.0 870.0,468.0" fill="none" stroke="rgb(152,0,16)" stroke-opacity="0.76" stroke-width="15.5" stroke-linejoin="miter" stroke-linecap="round"/>
<polyline points="767.6,180.6 767.6,265.5 870.0,367.9" fill="none" stroke="rgb(152,0,16)" stroke-opacity="0.76" stroke-width="15.5" stroke-linejoin="miter" stroke-linecap="round"/>
<path d="M216.30,181.50C216.31,182.67 216.32,183.15 216.34,185.00C216.43,192.10 216.87,229.40 216.96,236.50C216.98,238.35 216.95,238.84 217.00,240.00C217.05,241.16 217.15,242.06 217.26,243.49C217.43,245.80 217.77,250.20 217.94,252.51C218.05,253.94 217.89,254.90 218.20,256.00C218.51,257.10 219.15,257.87 219.78,259.12C220.75,261.02 222.45,264.38 223.42,266.28C224.05,267.53 224.39,268.41 225.00,269.40C225.61,270.39 226.26,271.09 227.09,272.21C228.33,273.87 230.47,276.73 231.71,278.39C232.54,279.51 233.26,280.18 233.80,281.20C234.34,282.22 234.47,283.17 234.93,284.51C235.64,286.62 236.96,290.48 237.67,292.59C238.13,293.93 238.50,294.43 238.80,295.90C239.35,298.59 239.69,304.84 239.70,307.60C239.70,309.10 239.56,309.55 239.45,311.09C239.22,314.14 238.68,321.66 238.45,324.71C238.34,326.25 238.58,326.82 238.20,328.20C237.56,330.52 235.26,334.06 233.80,337.00C232.33,339.96 230.54,342.89 229.40,345.90C228.30,348.79 227.31,352.41 227.00,354.70C226.81,356.12 227.00,356.53 227.00,358.20C227.00,362.42 227.00,376.28 227.00,380.50C227.00,382.17 227.16,382.57 227.00,384.00C226.75,386.32 226.10,390.24 225.00,393.00C223.94,395.65 221.66,397.59 220.60,400.30C219.46,403.22 218.85,407.56 218.60,410.00C218.45,411.45 218.60,411.61 218.60,413.50C218.60,421.68 218.60,470.62 218.60,478.80C218.60,480.69 218.15,480.94 218.60,482.30C219.42,484.77 224.15,488.14 225.50,491.60C226.84,495.04 226.56,500.29 226.70,503.00C226.78,504.50 226.70,505.05 226.70,506.50C226.70,508.87 226.70,513.53 226.70,515.90C226.70,517.35 227.06,518.05 226.70,519.40C226.11,521.61 223.40,525.60 222.00,527.50C221.15,528.66 220.65,528.96 219.63,530.08C217.76,532.11 213.54,536.69 211.67,538.72C210.65,539.84 210.43,540.44 209.30,541.30C207.48,542.69 204.37,544.58 201.20,545.50C197.28,546.64 191.12,546.86 187.30,546.70C184.59,546.58 182.53,546.30 180.40,545.50C178.30,544.72 176.55,543.09 174.60,542.00C172.68,540.93 171.15,539.61 168.80,539.00C165.67,538.18 160.37,538.13 157.20,538.60C154.90,538.95 153.19,539.79 151.40,540.60C149.74,541.35 148.26,542.67 146.80,543.20C145.61,543.63 144.75,543.58 143.36,543.84C141.23,544.24 137.37,544.96 135.24,545.36C133.85,545.62 132.94,545.77 131.80,546.00C130.66,546.23 129.72,546.45 128.38,546.74C126.45,547.16 123.25,547.84 121.32,548.26C119.98,548.55 119.35,548.54 117.90,549.00C115.15,549.88 108.97,552.86 106.30,554.00C104.89,554.60 104.37,554.82 103.08,555.37C101.11,556.20 97.59,557.70 95.62,558.53C94.33,559.08 93.61,559.16 92.40,559.90C90.46,561.08 87.45,563.44 85.50,565.60C83.61,567.69 81.77,569.96 80.80,572.60C79.77,575.39 80.07,578.87 79.70,582.00" fill="none" stroke="rgb(152,0,16)" stroke-opacity="0.76" stroke-width="5.8" stroke-linejoin="round" stroke-linecap="round"/>
<path d="M277.40,181.50C277.39,182.67 277.39,183.15 277.38,185.00C277.33,192.10 277.07,229.40 277.02,236.50C277.01,238.35 277.00,238.83 277.00,240.00C277.00,241.17 277.00,242.06 277.00,243.50C277.00,245.80 277.00,250.20 277.00,252.50C277.00,253.94 277.25,254.89 277.00,256.00C276.75,257.11 276.13,257.85 275.51,259.17C274.50,261.33 272.50,265.57 271.49,267.73C270.87,269.05 270.59,269.90 270.00,270.90C269.41,271.90 268.79,272.55 267.93,273.72C266.52,275.63 263.78,279.37 262.37,281.28C261.51,282.45 261.02,282.77 260.30,284.10C258.93,286.64 256.48,293.18 255.90,296.00C255.60,297.48 255.80,298.02 255.72,299.50C255.59,302.06 255.31,307.44 255.18,310.00C255.10,311.48 255.10,312.34 255.00,313.50C254.90,314.66 254.77,315.50 254.61,316.98C254.31,319.58 253.69,325.12 253.39,327.72C253.23,329.20 253.47,329.79 253.00,331.20C252.14,333.79 248.80,338.17 247.00,341.50C245.37,344.52 243.57,346.97 242.60,350.30C241.47,354.17 241.36,360.51 241.20,363.50C241.12,365.04 241.20,365.40 241.20,367.00C241.20,370.47 241.20,380.03 241.20,383.50C241.20,385.10 240.98,385.58 241.20,387.00C241.55,389.33 242.80,393.08 244.00,396.00C245.22,398.98 247.79,402.09 248.50,404.70C249.03,406.62 248.76,408.42 248.80,410.00C248.84,411.29 248.80,411.61 248.80,413.50C248.80,421.68 248.80,470.62 248.80,478.80C248.80,480.69 249.14,480.90 248.80,482.30C248.21,484.71 245.28,488.27 244.00,491.60C242.64,495.14 241.35,500.27 241.00,503.00C240.81,504.49 241.00,504.94 241.00,506.50C241.00,509.61 241.00,517.39 241.00,520.50C241.00,522.06 241.20,522.87 241.00,524.00C240.80,525.13 240.29,525.98 239.82,527.29C239.11,529.25 237.89,532.65 237.18,534.61C236.71,535.92 236.61,536.94 236.00,537.90C235.39,538.86 234.54,539.35 233.51,540.36C231.84,542.03 228.56,545.27 226.89,546.94C225.86,547.95 225.34,548.73 224.40,549.40C223.46,550.07 222.55,550.33 221.27,550.97C219.29,551.98 215.61,553.82 213.63,554.83C212.35,555.47 211.59,556.00 210.50,556.40C209.41,556.80 208.44,556.92 207.11,557.25C205.17,557.74 201.93,558.56 199.99,559.05C198.66,559.38 197.75,559.75 196.60,559.90C195.45,560.05 194.98,559.92 193.10,559.94C185.30,560.02 140.70,560.48 132.90,560.56C131.02,560.58 130.84,560.47 129.40,560.60C127.05,560.81 123.06,561.01 120.20,562.20C117.24,563.43 114.54,565.86 112.00,568.00C109.48,570.13 106.54,572.46 105.00,575.00C103.68,577.18 103.53,579.67 102.80,582.00" fill="none" stroke="rgb(152,0,16)" stroke-opacity="0.76" stroke-width="5.8" stroke-linejoin="round" stroke-linecap="round"/>
<path d="M308.00,181.50C308.00,182.67 308.01,183.15 308.01,185.00C308.04,192.10 308.16,229.40 308.19,236.50C308.19,238.35 308.17,238.83 308.20,240.00C308.23,241.17 308.30,242.01 308.38,243.50C308.51,246.07 308.79,251.53 308.92,254.10C309.00,255.59 308.77,256.52 309.10,257.60C309.43,258.68 310.14,259.34 310.89,260.61C312.17,262.77 314.83,267.23 316.11,269.39C316.86,270.66 317.27,271.42 317.90,272.40C318.53,273.38 319.06,274.04 319.92,275.26C321.43,277.40 324.67,282.00 326.18,284.14C327.04,285.36 327.54,285.65 328.20,287.00C329.44,289.53 331.38,296.00 331.80,298.80C332.02,300.29 331.80,300.57 331.80,302.30C331.80,307.20 331.80,325.60 331.80,330.50C331.80,332.23 331.99,332.86 331.80,334.00C331.61,335.14 331.14,335.97 330.68,337.32C329.96,339.44 328.64,343.36 327.92,345.48C327.46,346.83 327.25,347.73 326.80,348.80C326.35,349.87 325.88,350.63 325.23,351.93C324.15,354.06 322.05,358.24 320.97,360.37C320.32,361.67 319.72,362.40 319.40,363.50C319.08,364.60 319.20,365.59 319.07,366.98C318.87,369.05 318.53,372.65 318.33,374.72C318.20,376.11 318.19,376.78 318.00,378.20C317.70,380.47 317.23,384.09 316.50,387.00C315.75,389.99 314.53,392.92 313.50,395.90C312.46,398.92 310.70,402.65 310.30,405.00C310.06,406.41 310.30,406.59 310.31,408.50C310.33,417.17 310.47,471.83 310.49,480.50C310.50,482.41 310.09,482.67 310.50,484.00C311.17,486.19 314.23,489.55 315.80,491.90C317.06,493.78 318.71,495.39 319.20,497.00C319.57,498.22 319.20,498.74 319.20,500.50C319.20,505.97 319.20,528.63 319.20,534.10C319.20,535.86 319.41,536.20 319.20,537.60C318.86,539.82 318.10,543.35 316.60,546.00C314.89,549.02 312.16,552.52 309.00,554.50C305.71,556.56 300.64,556.36 297.10,557.90C293.93,559.28 291.04,560.95 288.60,563.00C286.28,564.95 284.19,567.06 282.70,569.80C281.01,572.92 280.57,577.27 279.50,581.00" fill="none" stroke="rgb(152,0,16)" stroke-opacity="0.76" stroke-width="5.8" stroke-linejoin="round" stroke-linecap="round"/>
<path d="M369.10,181.50C369.08,182.67 369.07,183.15 369.03,185.00C368.90,192.10 368.20,229.40 368.07,236.50C368.03,238.35 368.01,238.83 368.00,240.00C367.99,241.17 368.00,242.02 368.00,243.50C368.00,246.08 368.00,251.52 368.00,254.10C368.00,255.58 368.28,256.51 368.00,257.60C367.72,258.69 366.98,259.42 366.30,260.66C365.25,262.55 363.35,265.95 362.30,267.84C361.62,269.08 361.20,269.90 360.60,270.90C360.00,271.90 359.53,272.57 358.71,273.85C357.19,276.23 353.71,281.67 352.19,284.05C351.37,285.33 350.94,285.63 350.30,287.00C349.09,289.57 346.96,296.00 346.50,298.80C346.25,300.29 346.47,300.57 346.44,302.30C346.36,307.20 346.04,325.60 345.96,330.50C345.93,332.23 346.08,332.86 345.90,334.00C345.72,335.14 345.31,335.99 344.90,337.35C344.27,339.47 343.13,343.33 342.50,345.45C342.09,346.81 342.13,347.40 341.50,348.80C340.23,351.60 334.96,357.74 334.10,360.60C333.67,362.04 334.06,362.46 334.02,364.10C333.93,367.95 333.67,379.65 333.58,383.50C333.54,385.14 333.35,385.58 333.50,387.00C333.74,389.30 334.75,393.03 335.60,395.90C336.43,398.69 337.64,401.50 338.50,404.00C339.24,406.15 340.21,408.25 340.50,410.00C340.71,411.30 340.51,411.60 340.51,413.50C340.55,421.81 340.75,472.19 340.79,480.50C340.79,482.40 341.17,482.66 340.80,484.00C340.20,486.18 337.40,489.34 336.00,491.90C334.74,494.20 333.17,496.68 332.70,498.60C332.38,499.91 332.66,500.35 332.62,502.10C332.50,507.40 332.00,528.80 331.88,534.10C331.84,535.85 331.99,536.14 331.80,537.60C331.47,540.13 330.75,544.53 329.30,547.80C327.74,551.32 324.29,555.72 322.50,557.90C321.54,559.07 321.00,559.40 320.03,560.37C318.62,561.78 316.28,564.12 314.87,565.53C313.90,566.50 313.18,567.13 312.40,568.00C311.62,568.87 311.12,569.60 310.21,570.73C308.70,572.62 305.70,576.38 304.19,578.27C303.28,579.40 302.73,580.09 302.00,581.00" fill="none" stroke="rgb(152,0,16)" stroke-opacity="0.76" stroke-width="5.8" stroke-linejoin="round" stroke-linecap="round"/>
<path d="M399.70,181.50C399.71,182.67 399.71,183.15 399.72,185.00C399.75,192.10 399.95,229.40 399.98,236.50C399.99,238.35 399.95,238.84 400.00,240.00C400.05,241.16 400.17,242.10 400.28,243.49C400.45,245.56 400.75,249.14 400.92,251.21C401.03,252.60 400.87,253.61 401.20,254.70C401.53,255.79 402.19,256.48 402.91,257.76C404.10,259.90 406.50,264.20 407.69,266.34C408.41,267.62 408.82,268.39 409.40,269.40C409.98,270.41 410.44,271.14 411.20,272.40C412.48,274.55 415.12,278.95 416.40,281.10C417.16,282.36 417.73,283.04 418.20,284.10C418.67,285.16 418.80,286.10 419.20,287.45C419.83,289.55 420.97,293.35 421.60,295.45C422.00,296.80 422.40,297.66 422.60,298.80C422.80,299.94 422.72,300.70 422.82,302.29C423.04,305.77 423.66,315.43 423.88,318.91C423.98,320.50 423.84,321.28 424.10,322.40C424.36,323.52 424.88,324.32 425.41,325.65C426.26,327.74 427.84,331.66 428.69,333.75C429.22,335.08 429.45,335.58 430.00,337.00C431.05,339.70 433.41,345.11 434.40,348.80C435.24,351.91 435.71,355.32 435.90,357.60C436.02,359.02 435.90,359.50 435.90,361.10C435.90,364.58 435.90,374.22 435.90,377.70C435.90,379.30 436.02,379.78 435.90,381.20C435.71,383.48 435.20,386.99 434.40,390.00C433.51,393.34 431.72,396.90 430.60,400.30C429.53,403.56 428.15,407.55 427.80,410.00C427.60,411.44 427.80,411.59 427.80,413.50C427.80,422.10 427.80,475.90 427.80,484.50C427.80,486.41 427.24,486.75 427.80,488.00C428.82,490.28 435.38,493.42 436.40,495.70C436.96,496.95 436.40,497.50 436.40,499.20C436.40,503.81 436.40,520.19 436.40,524.80C436.40,526.50 436.58,526.96 436.40,528.30C436.15,530.19 435.56,532.99 434.60,535.00C433.67,536.94 432.64,538.75 430.80,540.20C428.40,542.09 423.95,543.27 420.70,544.40C417.78,545.42 414.56,545.53 412.20,546.80C410.14,547.91 408.56,549.31 407.10,551.20C405.37,553.44 404.27,556.72 402.90,559.70C401.43,562.90 400.38,567.13 398.60,569.80C397.16,571.95 395.65,573.24 393.60,574.90C391.01,577.00 387.20,578.97 384.00,581.00" fill="none" stroke="rgb(152,0,16)" stroke-opacity="0.76" stroke-width="5.8" stroke-linejoin="round" stroke-linecap="round"/>
<path d="M460.80,181.50C460.78,182.67 460.78,183.15 460.75,185.00C460.66,192.10 460.14,229.40 460.05,236.50C460.02,238.35 460.01,238.83 460.00,240.00C459.99,241.17 460.00,242.11 460.00,243.50C460.00,245.57 460.00,249.13 460.00,251.20C460.00,252.59 460.28,253.60 460.00,254.70C459.72,255.80 459.02,256.49 458.33,257.77C457.16,259.91 454.84,264.19 453.67,266.33C452.98,267.61 452.57,268.38 452.00,269.40C451.43,270.42 451.02,271.09 450.25,272.43C448.73,275.03 445.07,281.37 443.55,283.97C442.78,285.31 442.37,285.61 441.80,287.00C440.74,289.60 439.19,296.01 438.80,298.80C438.59,300.30 438.75,300.70 438.71,302.30C438.62,305.78 438.38,315.42 438.29,318.90C438.25,320.50 438.03,321.26 438.20,322.40C438.37,323.54 438.87,324.37 439.33,325.71C440.05,327.80 441.35,331.60 442.07,333.69C442.53,335.03 442.79,335.91 443.20,337.00C443.61,338.09 443.96,338.92 444.50,340.25C445.35,342.38 446.95,346.42 447.80,348.55C448.34,349.88 448.72,350.35 449.10,351.80C449.79,354.46 450.42,360.74 450.60,363.50C450.70,365.00 450.60,365.45 450.60,367.00C450.60,370.04 450.60,377.46 450.60,380.50C450.60,382.05 450.38,382.58 450.60,384.00C450.97,386.33 452.49,389.85 453.50,393.00C454.61,396.48 456.24,400.86 457.00,404.00C457.55,406.28 457.86,408.26 458.00,410.00C458.11,411.32 458.00,411.59 458.00,413.50C458.00,422.10 458.00,475.90 458.00,484.50C458.00,486.41 458.48,486.71 458.00,488.00C457.19,490.20 452.25,493.50 451.40,495.70C450.90,496.99 451.34,497.45 451.29,499.20C451.12,504.36 450.48,524.74 450.31,529.90C450.26,531.65 450.58,532.36 450.20,533.40C449.82,534.44 449.19,534.69 448.04,536.15C443.48,541.95 418.72,573.45 414.16,579.25C413.01,580.71 412.72,581.08 412.00,582.00" fill="none" stroke="rgb(152,0,16)" stroke-opacity="0.76" stroke-width="5.8" stroke-linejoin="round" stroke-linecap="round"/>
<path d="M491.30,181.50C491.34,182.67 491.35,183.15 491.41,185.00C491.64,192.10 492.86,229.40 493.09,236.50C493.15,238.35 493.13,238.84 493.20,240.00C493.27,241.16 493.37,242.01 493.50,243.49C493.72,246.07 494.18,251.53 494.40,254.11C494.53,255.59 494.35,256.52 494.70,257.60C495.05,258.68 495.74,259.34 496.49,260.61C497.77,262.77 500.43,267.23 501.71,269.39C502.46,270.66 502.90,271.40 503.50,272.40C504.10,273.40 504.56,274.13 505.32,275.39C506.62,277.52 509.28,281.88 510.58,284.01C511.34,285.27 511.82,285.61 512.40,287.00C513.47,289.58 514.96,296.01 515.30,298.80C515.48,300.30 515.30,300.75 515.30,302.30C515.30,305.35 515.30,312.85 515.30,315.90C515.30,317.45 515.13,318.26 515.30,319.40C515.47,320.54 515.90,321.40 516.31,322.75C516.94,324.83 518.06,328.57 518.69,330.65C519.10,332.00 519.22,332.55 519.70,334.00C520.61,336.77 523.01,341.98 524.00,346.00C524.94,349.85 525.41,354.85 525.60,357.60C525.70,359.10 525.60,359.43 525.60,361.10C525.60,365.33 525.60,379.27 525.60,383.50C525.60,385.17 525.70,385.49 525.60,387.00C525.41,389.78 524.87,394.96 524.00,398.80C523.13,402.62 520.82,407.30 520.40,410.00C520.17,411.47 520.40,411.64 520.40,413.50C520.40,420.81 520.40,460.19 520.40,467.50C520.40,469.36 520.40,469.83 520.40,471.00" fill="none" stroke="rgb(152,0,16)" stroke-opacity="0.76" stroke-width="5.8" stroke-linejoin="round" stroke-linecap="round"/>
<path d="M552.50,181.50C552.49,182.67 552.49,183.15 552.47,185.00C552.41,192.10 552.09,229.40 552.03,236.50C552.01,238.35 552.06,238.84 552.00,240.00C551.94,241.16 551.80,242.09 551.67,243.48C551.47,245.55 551.13,249.15 550.93,251.22C550.80,252.61 550.91,253.60 550.60,254.70C550.29,255.80 549.72,256.46 549.04,257.83C547.74,260.45 544.66,266.65 543.36,269.27C542.68,270.64 542.36,271.38 541.80,272.40C541.24,273.42 540.75,274.14 539.99,275.40C538.71,277.53 536.09,281.87 534.81,284.00C534.05,285.26 533.58,285.61 533.00,287.00C531.92,289.59 530.35,296.01 530.00,298.80C529.81,300.30 530.00,300.75 530.00,302.30C530.00,305.35 530.00,312.85 530.00,315.90C530.00,317.45 529.83,318.26 530.00,319.40C530.17,320.54 530.60,321.40 531.01,322.75C531.64,324.83 532.76,328.57 533.39,330.65C533.80,332.00 533.84,332.57 534.40,334.00C535.50,336.80 538.82,341.95 540.30,346.00C541.70,349.83 542.86,354.84 543.20,357.60C543.38,359.09 543.20,359.43 543.20,361.10C543.20,365.33 543.20,379.27 543.20,383.50C543.20,385.17 543.01,385.50 543.20,387.00C543.55,389.79 544.98,394.95 546.20,398.80C547.41,402.62 550.00,407.29 550.50,410.00C550.77,411.46 550.50,411.64 550.50,413.50C550.50,420.81 550.50,460.19 550.50,467.50C550.50,469.36 550.50,469.83 550.50,471.00" fill="none" stroke="rgb(152,0,16)" stroke-opacity="0.76" stroke-width="5.8" stroke-linejoin="round" stroke-linecap="round"/>
<polyline points="644.1,181.5 644.1,318.7 714.4,389.0 714.4,418.3 675.8,419.2 670.6,424.0 670.6,504.0 702.5,534.0" fill="none" stroke="rgb(152,0,16)" stroke-opacity="0.76" stroke-width="5.8" stroke-linejoin="round" stroke-linecap="round"/>
<polyline points="674.7,181.5 674.7,292.2 798.5,416.0 761.0,418.6 757.2,423.0 757.2,527.0 764.5,535.0" fill="none" stroke="rgb(152,0,16)" stroke-opacity="0.76" stroke-width="5.8" stroke-linejoin="round" stroke-linecap="round"/>
<circle cx="48.8" cy="137.8" r="13.4" fill="rgb(205,12,32)" fill-opacity="0.5"/>
<polygon points="58.4,55.7 61.9,57.7 68.4,63.5 72.4,68.5 75.7,73.5 76.4,80.0 76.4,194.7 75.7,201.2 72.4,206.2 68.4,211.2 61.9,217.0 58.4,219.0 37.4,219.0 33.9,217.0 27.4,211.2 23.4,206.2 20.1,201.2 19.4,194.7 19.4,80.0 20.1,73.5 23.4,68.5 27.4,63.5 33.9,57.7 37.4,55.7" fill="none" stroke="rgb(205,202,205)" stroke-width="1.1"/>
<rect x="206.3" y="100.6" width="19.8" height="157.4" fill="none" stroke="rgb(175,4,24)" stroke-width="1.1"/>
<rect x="236.9" y="100.6" width="19.8" height="157.4" fill="none" stroke="rgb(175,4,24)" stroke-width="1.1"/>
<rect x="267.4" y="100.6" width="19.8" height="157.4" fill="none" stroke="rgb(175,4,24)" stroke-width="1.1"/>
<rect x="298.0" y="100.6" width="19.8" height="157.4" fill="none" stroke="rgb(175,4,24)" stroke-width="1.1"/>
<rect x="328.5" y="100.6" width="19.8" height="157.4" fill="none" stroke="rgb(175,4,24)" stroke-width="1.1"/>
<rect x="359.1" y="100.6" width="19.8" height="157.4" fill="none" stroke="rgb(175,4,24)" stroke-width="1.1"/>
<rect x="389.7" y="100.6" width="19.8" height="157.4" fill="none" stroke="rgb(175,4,24)" stroke-width="1.1"/>
<rect x="420.2" y="100.6" width="19.8" height="157.4" fill="none" stroke="rgb(175,4,24)" stroke-width="1.1"/>
<rect x="450.8" y="100.6" width="19.8" height="157.4" fill="none" stroke="rgb(175,4,24)" stroke-width="1.1"/>
<rect x="481.3" y="100.6" width="19.8" height="157.4" fill="none" stroke="rgb(175,4,24)" stroke-width="1.1"/>
<rect x="511.9" y="100.6" width="19.8" height="157.4" fill="none" stroke="rgb(175,4,24)" stroke-width="1.1"/>
<rect x="542.5" y="100.6" width="19.8" height="157.4" fill="none" stroke="rgb(175,4,24)" stroke-width="1.1"/>
<rect x="573.0" y="100.6" width="19.8" height="157.4" fill="none" stroke="rgb(175,4,24)" stroke-width="1.1"/>
<rect x="603.6" y="100.6" width="19.8" height="157.4" fill="none" stroke="rgb(175,4,24)" stroke-width="1.1"/>
<rect x="634.1" y="100.6" width="19.8" height="157.4" fill="none" stroke="rgb(175,4,24)" stroke-width="1.1"/>
<rect x="664.7" y="100.6" width="19.8" height="157.4" fill="none" stroke="rgb(175,4,24)" stroke-width="1.1"/>
<rect x="695.3" y="100.6" width="19.8" height="157.4" fill="none" stroke="rgb(175,4,24)" stroke-width="1.1"/>
<rect x="725.8" y="100.6" width="19.8" height="157.4" fill="none" stroke="rgb(175,4,24)" stroke-width="1.1"/>
<rect x="756.4" y="100.6" width="19.8" height="157.4" fill="none" stroke="rgb(175,4,24)" stroke-width="1.1"/>
<rect x="209.8" y="397.5" width="16.4" height="37.6" fill="none" stroke="rgb(175,4,24)" stroke-width="1.1"/>
<rect x="209.8" y="450.2" width="16.4" height="37.6" fill="none" stroke="rgb(175,4,24)" stroke-width="1.1"/>
<rect x="240.4" y="397.5" width="16.4" height="37.6" fill="none" stroke="rgb(175,4,24)" stroke-width="1.1"/>
<rect x="240.4" y="450.2" width="16.4" height="37.6" fill="none" stroke="rgb(175,4,24)" stroke-width="1.1"/>
<rect x="271.0" y="397.5" width="16.4" height="37.6" fill="none" stroke="rgb(175,4,24)" stroke-width="1.1"/>
<rect x="271.0" y="450.2" width="16.4" height="37.6" fill="none" stroke="rgb(175,4,24)" stroke-width="1.1"/>
<rect x="301.6" y="397.5" width="16.4" height="37.6" fill="none" stroke="rgb(175,4,24)" stroke-width="1.1"/>
<rect x="301.6" y="450.2" width="16.4" height="37.6" fill="none" stroke="rgb(175,4,24)" stroke-width="1.1"/>
<rect x="332.2" y="397.5" width="16.4" height="37.6" fill="none" stroke="rgb(175,4,24)" stroke-width="1.1"/>
<rect x="332.2" y="450.2" width="16.4" height="37.6" fill="none" stroke="rgb(175,4,24)" stroke-width="1.1"/>
<rect x="419.5" y="397.5" width="16.4" height="37.6" fill="none" stroke="rgb(175,4,24)" stroke-width="1.1"/>
<rect x="419.5" y="450.2" width="16.4" height="37.6" fill="none" stroke="rgb(175,4,24)" stroke-width="1.1"/>
<rect x="450.1" y="397.5" width="16.4" height="37.6" fill="none" stroke="rgb(175,4,24)" stroke-width="1.1"/>
<rect x="450.1" y="450.2" width="16.4" height="37.6" fill="none" stroke="rgb(175,4,24)" stroke-width="1.1"/>
<rect x="480.7" y="397.5" width="16.4" height="37.6" fill="none" stroke="rgb(175,4,24)" stroke-width="1.1"/>
<rect x="480.7" y="450.2" width="16.4" height="37.6" fill="none" stroke="rgb(175,4,24)" stroke-width="1.1"/>
<rect x="511.3" y="397.5" width="16.4" height="37.6" fill="none" stroke="rgb(175,4,24)" stroke-width="1.1"/>
<rect x="511.3" y="450.2" width="16.4" height="37.6" fill="none" stroke="rgb(175,4,24)" stroke-width="1.1"/>
<rect x="541.9" y="397.5" width="16.4" height="37.6" fill="none" stroke="rgb(175,4,24)" stroke-width="1.1"/>
<rect x="541.9" y="450.2" width="16.4" height="37.6" fill="none" stroke="rgb(175,4,24)" stroke-width="1.1"/>
<rect x="609.5" y="400.6" width="38" height="34.6" fill="none" stroke="rgb(175,4,24)" stroke-width="1.1"/>
<rect x="609.5" y="451.4" width="38" height="34.6" fill="none" stroke="rgb(175,4,24)" stroke-width="1.1"/>
<rect x="694.5" y="400.6" width="38" height="34.6" fill="none" stroke="rgb(175,4,24)" stroke-width="1.1"/>
<rect x="694.5" y="451.4" width="38" height="34.6" fill="none" stroke="rgb(175,4,24)" stroke-width="1.1"/>
<rect x="779.6" y="400.6" width="38" height="34.6" fill="none" stroke="rgb(175,4,24)" stroke-width="1.1"/>
<rect x="779.6" y="451.4" width="38" height="34.6" fill="none" stroke="rgb(175,4,24)" stroke-width="1.1"/>
<rect x="860.5" y="369.5" width="10" height="38" fill="none" stroke="rgb(175,4,24)" stroke-width="1.1"/>
<rect x="860.5" y="454.5" width="10" height="38.5" fill="none" stroke="rgb(175,4,24)" stroke-width="1.1"/>
<rect x="532.2" y="529" width="43.4" height="60" fill="none" stroke="rgb(175,4,24)" stroke-width="1.1"/>
<rect x="631.3" y="570" width="33" height="20" fill="none" stroke="rgb(175,4,24)" stroke-width="1.1"/>
<circle cx="702.8" cy="536.7" r="22.7" fill="none" stroke="rgb(175,4,24)" stroke-width="1.1"/>
<circle cx="764.1" cy="536.7" r="22.7" fill="none" stroke="rgb(175,4,24)" stroke-width="1.1"/>
<text transform="translate(247.5,130.1) rotate(-90)" x="0" y="4.86" text-anchor="middle" font-size="13.5" fill="rgb(185,14,36)" textLength="29.4" lengthAdjust="spacingAndGlyphs" font-weight="normal">GND</text>
<text transform="translate(339.0,130.1) rotate(-90)" x="0" y="4.86" text-anchor="middle" font-size="13.5" fill="rgb(185,14,36)" textLength="29.4" lengthAdjust="spacingAndGlyphs" font-weight="normal">GND</text>
<text transform="translate(430.8,130.1) rotate(-90)" x="0" y="4.86" text-anchor="middle" font-size="13.5" fill="rgb(185,14,36)" textLength="29.4" lengthAdjust="spacingAndGlyphs" font-weight="normal">GND</text>
<text transform="translate(522.6,130.1) rotate(-90)" x="0" y="4.86" text-anchor="middle" font-size="13.5" fill="rgb(185,14,36)" textLength="29.4" lengthAdjust="spacingAndGlyphs" font-weight="normal">GND</text>
<text transform="translate(706.0,128.9) rotate(-90)" x="0" y="4.14" text-anchor="middle" font-size="11.5" fill="rgb(185,14,36)" textLength="23.6" lengthAdjust="spacingAndGlyphs" font-weight="normal">GND</text>
<text transform="translate(706.0,229.5) rotate(-90)" x="0" y="4.14" text-anchor="middle" font-size="11.5" fill="rgb(185,14,36)" textLength="23.6" lengthAdjust="spacingAndGlyphs" font-weight="normal">GND</text>
<text transform="translate(584.5,247.5) rotate(-90)" x="0" y="3.85" text-anchor="middle" font-size="10.7" fill="rgb(185,14,36)" textLength="68.4" lengthAdjust="spacingAndGlyphs" font-weight="normal">HDMI_CEC_CN</text>
<text transform="translate(606.8,336.6) rotate(45)" x="0" y="3.06" text-anchor="middle" font-size="8.5" fill="rgb(185,14,36)" textLength="55.7" lengthAdjust="spacingAndGlyphs" font-weight="normal">HDMI_CEC_CN</text>
<text transform="translate(621.5,524.5) rotate(45)" x="0" y="3.49" text-anchor="middle" font-size="9.7" fill="rgb(185,14,36)" textLength="71.6" lengthAdjust="spacingAndGlyphs" font-weight="normal">HDMI_CEC_CN</text>
<text transform="translate(737.0,233.0) rotate(-90)" x="0" y="4.14" text-anchor="middle" font-size="11.5" fill="rgb(185,14,36)" textLength="95.5" lengthAdjust="spacingAndGlyphs" font-weight="normal">+5V_HDMI_CONN</text>
<text transform="translate(790.2,344.2) rotate(45)" x="0" y="4.57" text-anchor="middle" font-size="12.7" fill="rgb(185,14,36)" textLength="108.3" lengthAdjust="spacingAndGlyphs" font-weight="normal">+5V_HDMI_CONN</text>
<text transform="translate(767.5,221.0) rotate(-90)" x="0" y="4.14" text-anchor="middle" font-size="11.5" fill="rgb(185,14,36)" textLength="81.8" lengthAdjust="spacingAndGlyphs" font-weight="normal">HDMI_HPD_CN</text>
<text transform="translate(823.5,327.5) rotate(45)" x="0" y="4.64" text-anchor="middle" font-size="12.9" fill="rgb(185,14,36)" textLength="95.1" lengthAdjust="spacingAndGlyphs" font-weight="normal">HDMI_HPD_CN</text>
<text transform="translate(384.9,335.3) rotate(-90)" x="0" y="5.58" text-anchor="middle" font-size="15.5" fill="rgb(185,14,36)" textLength="34.4" lengthAdjust="spacingAndGlyphs" font-weight="normal">GND</text>
<text transform="translate(384.9,401.6) rotate(-90)" x="0" y="5.58" text-anchor="middle" font-size="15.5" fill="rgb(185,14,36)" textLength="34.4" lengthAdjust="spacingAndGlyphs" font-weight="normal">GND</text>
<text transform="translate(384.9,477.6) rotate(-90)" x="0" y="5.58" text-anchor="middle" font-size="15.5" fill="rgb(185,14,36)" textLength="34.4" lengthAdjust="spacingAndGlyphs" font-weight="normal">GND</text>
<text transform="translate(279.5,389.0) rotate(-90)" x="0" y="3.42" text-anchor="middle" font-size="9.5" fill="rgb(185,14,36)" textLength="21.9" lengthAdjust="spacingAndGlyphs" font-weight="normal">GND</text>
<text transform="translate(279.5,443.0) rotate(-90)" x="0" y="3.42" text-anchor="middle" font-size="9.5" fill="rgb(185,14,36)" textLength="21.9" lengthAdjust="spacingAndGlyphs" font-weight="normal">GND</text>
<text transform="translate(279.5,494.5) rotate(-90)" x="0" y="3.42" text-anchor="middle" font-size="9.5" fill="rgb(185,14,36)" textLength="21.9" lengthAdjust="spacingAndGlyphs" font-weight="normal">GND</text>
<text transform="translate(489.2,398.5) rotate(-90)" x="0" y="3.96" text-anchor="middle" font-size="11" fill="rgb(185,14,36)" textLength="27.1" lengthAdjust="spacingAndGlyphs" font-weight="normal">GND</text>
<text transform="translate(489.2,441.5) rotate(-90)" x="0" y="3.96" text-anchor="middle" font-size="11" fill="rgb(185,14,36)" textLength="27.1" lengthAdjust="spacingAndGlyphs" font-weight="normal">GND</text>
<text transform="translate(489.2,496.0) rotate(-90)" x="0" y="3.96" text-anchor="middle" font-size="11" fill="rgb(185,14,36)" textLength="27.1" lengthAdjust="spacingAndGlyphs" font-weight="normal">GND</text>
<text transform="translate(489.2,543.0) rotate(-90)" x="0" y="3.96" text-anchor="middle" font-size="11" fill="rgb(185,14,36)" textLength="27.1" lengthAdjust="spacingAndGlyphs" font-weight="normal">GND</text>
<text transform="translate(123.5,485.4) rotate(0)" x="0" y="5.40" text-anchor="middle" font-size="15" fill="rgb(185,14,36)" textLength="32.3" lengthAdjust="spacingAndGlyphs" font-weight="normal">GND</text>
<text transform="translate(54.5,530.2) rotate(-45)" x="0" y="5.40" text-anchor="middle" font-size="15" fill="rgb(185,14,36)" textLength="37.0" lengthAdjust="spacingAndGlyphs" font-weight="normal">GND</text>
<text transform="translate(217.3,180.3) rotate(-90)" x="0" y="2.27" text-anchor="middle" font-size="6.3" fill="rgb(205,202,205)" textLength="63.5" lengthAdjust="spacingAndGlyphs" font-weight="normal">HDMI_TMDS_DAT2_P</text>
<text transform="translate(247.9,180.0) rotate(-90)" x="0" y="2.34" text-anchor="middle" font-size="6.5" fill="rgb(205,202,205)" textLength="14.4" lengthAdjust="spacingAndGlyphs" font-weight="normal">GND</text>
<text transform="translate(278.4,180.3) rotate(-90)" x="0" y="2.27" text-anchor="middle" font-size="6.3" fill="rgb(205,202,205)" textLength="64.1" lengthAdjust="spacingAndGlyphs" font-weight="normal">HDMI_TMDS_DAT2_N</text>
<text transform="translate(309.0,180.3) rotate(-90)" x="0" y="2.27" text-anchor="middle" font-size="6.3" fill="rgb(205,202,205)" textLength="63.5" lengthAdjust="spacingAndGlyphs" font-weight="normal">HDMI_TMDS_DAT1_P</text>
<text transform="translate(339.5,180.0) rotate(-90)" x="0" y="2.34" text-anchor="middle" font-size="6.5" fill="rgb(205,202,205)" textLength="14.4" lengthAdjust="spacingAndGlyphs" font-weight="normal">GND</text>
<text transform="translate(370.1,180.3) rotate(-90)" x="0" y="2.27" text-anchor="middle" font-size="6.3" fill="rgb(205,202,205)" textLength="64.1" lengthAdjust="spacingAndGlyphs" font-weight="normal">HDMI_TMDS_DAT1_N</text>
<text transform="translate(400.7,180.3) rotate(-90)" x="0" y="2.27" text-anchor="middle" font-size="6.3" fill="rgb(205,202,205)" textLength="63.5" lengthAdjust="spacingAndGlyphs" font-weight="normal">HDMI_TMDS_DAT0_P</text>
<text transform="translate(431.2,180.0) rotate(-90)" x="0" y="2.34" text-anchor="middle" font-size="6.5" fill="rgb(205,202,205)" textLength="14.4" lengthAdjust="spacingAndGlyphs" font-weight="normal">GND</text>
<text transform="translate(461.8,180.3) rotate(-90)" x="0" y="2.27" text-anchor="middle" font-size="6.3" fill="rgb(205,202,205)" textLength="64.1" lengthAdjust="spacingAndGlyphs" font-weight="normal">HDMI_TMDS_DAT0_N</text>
<text transform="translate(492.3,180.3) rotate(-90)" x="0" y="2.27" text-anchor="middle" font-size="6.3" fill="rgb(205,202,205)" textLength="60.3" lengthAdjust="spacingAndGlyphs" font-weight="normal">HDMI_TMDS_CLK_P</text>
<text transform="translate(522.9,180.0) rotate(-90)" x="0" y="2.34" text-anchor="middle" font-size="6.5" fill="rgb(205,202,205)" textLength="14.4" lengthAdjust="spacingAndGlyphs" font-weight="normal">GND</text>
<text transform="translate(553.5,180.3) rotate(-90)" x="0" y="2.27" text-anchor="middle" font-size="6.3" fill="rgb(205,202,205)" textLength="60.8" lengthAdjust="spacingAndGlyphs" font-weight="normal">HDMI_TMDS_CLK_N</text>
<text transform="translate(584.0,180.3) rotate(-90)" x="0" y="2.27" text-anchor="middle" font-size="6.3" fill="rgb(205,202,205)" textLength="45.4" lengthAdjust="spacingAndGlyphs" font-weight="normal">HDMI_CEC_CN</text>
<text transform="translate(645.1,180.3) rotate(-90)" x="0" y="2.27" text-anchor="middle" font-size="6.3" fill="rgb(205,202,205)" textLength="61.1" lengthAdjust="spacingAndGlyphs" font-weight="normal">HDMI_DDC_SCL_CN</text>
<text transform="translate(675.7,180.3) rotate(-90)" x="0" y="2.27" text-anchor="middle" font-size="6.3" fill="rgb(205,202,205)" textLength="61.8" lengthAdjust="spacingAndGlyphs" font-weight="normal">HDMI_DDC_SDA_CN</text>
<text transform="translate(706.3,180.0) rotate(-90)" x="0" y="2.34" text-anchor="middle" font-size="6.5" fill="rgb(205,202,205)" textLength="14.4" lengthAdjust="spacingAndGlyphs" font-weight="normal">GND</text>
<text transform="translate(736.8,180.3) rotate(-90)" x="0" y="2.27" text-anchor="middle" font-size="6.3" fill="rgb(205,202,205)" textLength="52.6" lengthAdjust="spacingAndGlyphs" font-weight="normal">+5V_HDMI_CONN</text>
<text transform="translate(767.4,180.3) rotate(-90)" x="0" y="2.27" text-anchor="middle" font-size="6.3" fill="rgb(205,202,205)" textLength="45.4" lengthAdjust="spacingAndGlyphs" font-weight="normal">HDMI_HPD_CN</text>
<text transform="translate(48.6,137.1) rotate(-90)" x="0" y="7.02" text-anchor="middle" font-size="19.5" fill="rgb(205,202,205)" textLength="44.9" lengthAdjust="spacingAndGlyphs" font-weight="normal">GND</text>
<text transform="translate(628.5,417.6) rotate(0)" x="0" y="2.16" text-anchor="middle" font-size="6" fill="rgb(205,202,205)" textLength="37.5" lengthAdjust="spacingAndGlyphs" font-weight="normal">HDMI_CEC_CN</text>
<text transform="translate(628.6,469.6) rotate(0)" x="0" y="4.86" text-anchor="middle" font-size="13.5" fill="rgb(190,188,190)" textLength="27.1" lengthAdjust="spacingAndGlyphs" font-weight="normal">GND</text>
<text transform="translate(713.5,469.6) rotate(0)" x="0" y="4.86" text-anchor="middle" font-size="13.5" fill="rgb(190,188,190)" textLength="27.1" lengthAdjust="spacingAndGlyphs" font-weight="normal">GND</text>
<text transform="translate(798.6,469.6) rotate(0)" x="0" y="4.86" text-anchor="middle" font-size="13.5" fill="rgb(190,188,190)" textLength="27.1" lengthAdjust="spacingAndGlyphs" font-weight="normal">GND</text>
<text transform="translate(703.0,536.7) rotate(0)" x="0" y="1.98" text-anchor="middle" font-size="5.5" fill="rgb(205,202,205)" textLength="46.8" lengthAdjust="spacingAndGlyphs" font-weight="normal">HDMI_DDC_SCL_CN</text>
<text transform="translate(764.7,536.7) rotate(0)" x="0" y="1.98" text-anchor="middle" font-size="5.5" fill="rgb(205,202,205)" textLength="45.7" lengthAdjust="spacingAndGlyphs" font-weight="normal">HDMI_DDC_SDA_CN</text>
<text transform="translate(555.9,556.8) rotate(-90)" x="0" y="2.74" text-anchor="middle" font-size="7.6" fill="rgb(205,202,205)" textLength="53.2" lengthAdjust="spacingAndGlyphs" font-weight="normal">HDMI_CEC_CN</text>
<text transform="translate(279.5,416.5) rotate(-90)" x="0" y="1.98" text-anchor="middle" font-size="5.5" fill="rgb(205,202,205)" textLength="13.9" lengthAdjust="spacingAndGlyphs" font-weight="normal">GND</text>
<text transform="translate(279.5,469.2) rotate(-90)" x="0" y="1.98" text-anchor="middle" font-size="5.5" fill="rgb(205,202,205)" textLength="13.9" lengthAdjust="spacingAndGlyphs" font-weight="normal">GND</text>
<text transform="translate(489.2,416.5) rotate(-90)" x="0" y="1.98" text-anchor="middle" font-size="5.5" fill="rgb(205,202,205)" textLength="13.9" lengthAdjust="spacingAndGlyphs" font-weight="normal">GND</text>
<circle cx="247.5" cy="79.1" r="7.4" fill="rgb(152,0,16)" fill-opacity="0.4"/>
<circle cx="339.3" cy="79.1" r="7.4" fill="rgb(152,0,16)" fill-opacity="0.4"/>
<circle cx="430.8" cy="79.1" r="7.4" fill="rgb(152,0,16)" fill-opacity="0.4"/>
<circle cx="522.6" cy="79.1" r="7.4" fill="rgb(152,0,16)" fill-opacity="0.4"/>
<circle cx="706" cy="79.1" r="7.2" fill="rgb(152,0,16)" fill-opacity="0.4"/>
<circle cx="706" cy="279.8" r="7.2" fill="rgb(152,0,16)" fill-opacity="0.4"/>
<circle cx="279.5" cy="365.9" r="7.2" fill="rgb(152,0,16)" fill-opacity="0.4"/>
<circle cx="384.9" cy="303.5" r="9.1" fill="rgb(152,0,16)" fill-opacity="0.4"/>
<circle cx="384.9" cy="366" r="9.1" fill="rgb(152,0,16)" fill-opacity="0.4"/>
<circle cx="384.9" cy="436.2" r="9.1" fill="rgb(152,0,16)" fill-opacity="0.4"/>
<circle cx="384.9" cy="517.8" r="9.1" fill="rgb(152,0,16)" fill-opacity="0.4"/>
<circle cx="489.2" cy="365.8" r="7.2" fill="rgb(152,0,16)" fill-opacity="0.4"/>
<circle cx="489.2" cy="521" r="7.2" fill="rgb(152,0,16)" fill-opacity="0.4"/>
<circle cx="279.5" cy="520" r="7.2" fill="rgb(152,0,16)" fill-opacity="0.4"/>
<circle cx="151" cy="485.2" r="8.75" fill="rgb(152,0,16)" fill-opacity="0.4"/>
<circle cx="205.3" cy="47.9" r="11.2" fill="none" stroke="rgb(28,6,210)" stroke-width="1.3"/>
<circle cx="205.3" cy="47.9" r="5.75" fill="none" stroke="rgb(200,196,200)" stroke-width="1.0"/>
<circle cx="290.6" cy="53.7" r="11.2" fill="none" stroke="rgb(28,6,210)" stroke-width="1.3"/>
<circle cx="290.6" cy="53.7" r="5.75" fill="none" stroke="rgb(200,196,200)" stroke-width="1.0"/>
<circle cx="382.8" cy="51.2" r="11.2" fill="none" stroke="rgb(28,6,210)" stroke-width="1.3"/>
<circle cx="382.8" cy="51.2" r="5.75" fill="none" stroke="rgb(200,196,200)" stroke-width="1.0"/>
<circle cx="478.8" cy="52.9" r="11.2" fill="none" stroke="rgb(28,6,210)" stroke-width="1.3"/>
<circle cx="478.8" cy="52.9" r="5.75" fill="none" stroke="rgb(200,196,200)" stroke-width="1.0"/>
<circle cx="571.9" cy="72.5" r="11.2" fill="none" stroke="rgb(28,6,210)" stroke-width="1.3"/>
<circle cx="571.9" cy="72.5" r="5.75" fill="none" stroke="rgb(200,196,200)" stroke-width="1.0"/>
<circle cx="850" cy="55.4" r="11.2" fill="none" stroke="rgb(28,6,210)" stroke-width="1.3"/>
<circle cx="850" cy="55.4" r="5.75" fill="none" stroke="rgb(200,196,200)" stroke-width="1.0"/>
<circle cx="177.2" cy="100.1" r="11.2" fill="none" stroke="rgb(28,6,210)" stroke-width="1.3"/>
<circle cx="177.2" cy="100.1" r="5.75" fill="none" stroke="rgb(200,196,200)" stroke-width="1.0"/>
<circle cx="153.0" cy="144.2" r="11.2" fill="none" stroke="rgb(28,6,210)" stroke-width="1.3"/>
<circle cx="153.0" cy="144.2" r="5.75" fill="none" stroke="rgb(200,196,200)" stroke-width="1.0"/>
<circle cx="166.3" cy="196.7" r="11.2" fill="none" stroke="rgb(28,6,210)" stroke-width="1.3"/>
<circle cx="166.3" cy="196.7" r="5.75" fill="none" stroke="rgb(200,196,200)" stroke-width="1.0"/>
<circle cx="175.7" cy="303.5" r="11.2" fill="none" stroke="rgb(28,6,210)" stroke-width="1.3"/>
<circle cx="175.7" cy="303.5" r="5.75" fill="none" stroke="rgb(200,196,200)" stroke-width="1.0"/>
<circle cx="169.6" cy="375.9" r="11.2" fill="none" stroke="rgb(28,6,210)" stroke-width="1.3"/>
<circle cx="169.6" cy="375.9" r="5.75" fill="none" stroke="rgb(200,196,200)" stroke-width="1.0"/>
<circle cx="292.1" cy="303.5" r="11.2" fill="none" stroke="rgb(28,6,210)" stroke-width="1.3"/>
<circle cx="292.1" cy="303.5" r="5.75" fill="none" stroke="rgb(200,196,200)" stroke-width="1.0"/>
<circle cx="474.1" cy="303.2" r="11.2" fill="none" stroke="rgb(28,6,210)" stroke-width="1.3"/>
<circle cx="474.1" cy="303.2" r="5.75" fill="none" stroke="rgb(200,196,200)" stroke-width="1.0"/>
<circle cx="247.5" cy="79.1" r="11.2" fill="none" stroke="rgb(28,6,210)" stroke-width="1.3"/>
<circle cx="247.5" cy="79.1" r="5.75" fill="none" stroke="rgb(200,196,200)" stroke-width="1.0"/>
<circle cx="339.3" cy="79.1" r="11.2" fill="none" stroke="rgb(28,6,210)" stroke-width="1.3"/>
<circle cx="339.3" cy="79.1" r="5.75" fill="none" stroke="rgb(200,196,200)" stroke-width="1.0"/>
<circle cx="430.8" cy="79.1" r="11.2" fill="none" stroke="rgb(28,6,210)" stroke-width="1.3"/>
<circle cx="430.8" cy="79.1" r="5.75" fill="none" stroke="rgb(200,196,200)" stroke-width="1.0"/>
<circle cx="522.6" cy="79.1" r="11.2" fill="none" stroke="rgb(28,6,210)" stroke-width="1.3"/>
<circle cx="522.6" cy="79.1" r="5.75" fill="none" stroke="rgb(200,196,200)" stroke-width="1.0"/>
<circle cx="706" cy="79.1" r="11.2" fill="none" stroke="rgb(28,6,210)" stroke-width="1.3"/>
<circle cx="706" cy="79.1" r="5.75" fill="none" stroke="rgb(200,196,200)" stroke-width="1.0"/>
<circle cx="706" cy="279.8" r="11.2" fill="none" stroke="rgb(28,6,210)" stroke-width="1.3"/>
<circle cx="706" cy="279.8" r="5.75" fill="none" stroke="rgb(200,196,200)" stroke-width="1.0"/>
<circle cx="279.5" cy="365.9" r="11.2" fill="none" stroke="rgb(28,6,210)" stroke-width="1.3"/>
<circle cx="279.5" cy="365.9" r="5.75" fill="none" stroke="rgb(200,196,200)" stroke-width="1.0"/>
<circle cx="384.9" cy="303.5" r="11.2" fill="none" stroke="rgb(28,6,210)" stroke-width="1.3"/>
<circle cx="384.9" cy="303.5" r="5.75" fill="none" stroke="rgb(200,196,200)" stroke-width="1.0"/>
<circle cx="384.9" cy="366" r="11.2" fill="none" stroke="rgb(28,6,210)" stroke-width="1.3"/>
<circle cx="384.9" cy="366" r="5.75" fill="none" stroke="rgb(200,196,200)" stroke-width="1.0"/>
<circle cx="384.9" cy="436.2" r="11.2" fill="none" stroke="rgb(28,6,210)" stroke-width="1.3"/>
<circle cx="384.9" cy="436.2" r="5.75" fill="none" stroke="rgb(200,196,200)" stroke-width="1.0"/>
<circle cx="384.9" cy="517.8" r="11.2" fill="none" stroke="rgb(28,6,210)" stroke-width="1.3"/>
<circle cx="384.9" cy="517.8" r="5.75" fill="none" stroke="rgb(200,196,200)" stroke-width="1.0"/>
<circle cx="489.2" cy="365.8" r="11.2" fill="none" stroke="rgb(28,6,210)" stroke-width="1.3"/>
<circle cx="489.2" cy="365.8" r="5.75" fill="none" stroke="rgb(200,196,200)" stroke-width="1.0"/>
<circle cx="489.2" cy="521" r="11.2" fill="none" stroke="rgb(28,6,210)" stroke-width="1.3"/>
<circle cx="489.2" cy="521" r="5.75" fill="none" stroke="rgb(200,196,200)" stroke-width="1.0"/>
<circle cx="279.5" cy="520" r="11.2" fill="none" stroke="rgb(28,6,210)" stroke-width="1.3"/>
<circle cx="279.5" cy="520" r="5.75" fill="none" stroke="rgb(200,196,200)" stroke-width="1.0"/>
<circle cx="151" cy="485.2" r="11.2" fill="none" stroke="rgb(28,6,210)" stroke-width="1.3"/>
<circle cx="151" cy="485.2" r="5.75" fill="none" stroke="rgb(200,196,200)" stroke-width="1.0"/>
<circle cx="10.5" cy="573.5" r="8.5" fill="rgb(152,0,16)" fill-opacity="0.5"/>
<circle cx="488.6" cy="470.8" r="6.5" fill="rgb(152,0,16)" fill-opacity="0.5"/>
<circle cx="488.3" cy="470.7" r="5.0" fill="none" stroke="rgb(28,6,210)" stroke-width="1.2"/>
<text transform="translate(489.1,470.7) rotate(0)" x="0" y="2.16" text-anchor="middle" font-size="6" fill="rgb(235,235,235)" textLength="6.7" lengthAdjust="spacingAndGlyphs" font-weight="normal">+4</text>
<circle cx="520.7" cy="470.7" r="5.0" fill="none" stroke="rgb(28,6,210)" stroke-width="1.2"/>
<text transform="translate(521.5,470.7) rotate(0)" x="0" y="2.16" text-anchor="middle" font-size="6" fill="rgb(235,235,235)" textLength="6.8" lengthAdjust="spacingAndGlyphs" font-weight="normal">+3</text>
<circle cx="550.7" cy="470.7" r="5.0" fill="none" stroke="rgb(28,6,210)" stroke-width="1.2"/>
<text transform="translate(551.5,470.7) rotate(0)" x="0" y="2.16" text-anchor="middle" font-size="6" fill="rgb(235,235,235)" textLength="6.8" lengthAdjust="spacingAndGlyphs" font-weight="normal">+3</text>
<circle cx="574.2" cy="470.7" r="5.0" fill="none" stroke="rgb(28,6,210)" stroke-width="1.2"/>
<text transform="translate(575.0,470.7) rotate(0)" x="0" y="2.16" text-anchor="middle" font-size="6" fill="rgb(235,235,235)" textLength="6.7" lengthAdjust="spacingAndGlyphs" font-weight="normal">+4</text>
<circle cx="628.6" cy="468.5" r="5.0" fill="none" stroke="rgb(28,6,210)" stroke-width="1.2"/>
<text transform="translate(629.4,468.5) rotate(0)" x="0" y="2.16" text-anchor="middle" font-size="6" fill="rgb(235,235,235)" textLength="6.7" lengthAdjust="spacingAndGlyphs" font-weight="normal">+4</text>
<circle cx="714.4" cy="468.5" r="5.0" fill="none" stroke="rgb(28,6,210)" stroke-width="1.2"/>
<text transform="translate(715.2,468.5) rotate(0)" x="0" y="2.16" text-anchor="middle" font-size="6" fill="rgb(235,235,235)" textLength="6.7" lengthAdjust="spacingAndGlyphs" font-weight="normal">+4</text>
<circle cx="714.4" cy="418.3" r="5.0" fill="none" stroke="rgb(28,6,210)" stroke-width="1.2"/>
<text transform="translate(715.2,418.3) rotate(0)" x="0" y="2.16" text-anchor="middle" font-size="6" fill="rgb(235,235,235)" textLength="6.8" lengthAdjust="spacingAndGlyphs" font-weight="normal">+3</text>
<circle cx="799.3" cy="417" r="5.0" fill="none" stroke="rgb(28,6,210)" stroke-width="1.2"/>
<text transform="translate(800.1,417.0) rotate(0)" x="0" y="2.16" text-anchor="middle" font-size="6" fill="rgb(235,235,235)" textLength="6.8" lengthAdjust="spacingAndGlyphs" font-weight="normal">+3</text>
<circle cx="788" cy="479.2" r="5.0" fill="none" stroke="rgb(28,6,210)" stroke-width="1.2"/>
<text transform="translate(788.8,479.2) rotate(0)" x="0" y="2.16" text-anchor="middle" font-size="6" fill="rgb(235,235,235)" textLength="6.7" lengthAdjust="spacingAndGlyphs" font-weight="normal">+4</text>
<circle cx="811.7" cy="479.2" r="5.0" fill="none" stroke="rgb(28,6,210)" stroke-width="1.2"/>
<text transform="translate(812.5,479.2) rotate(0)" x="0" y="2.16" text-anchor="middle" font-size="6" fill="rgb(235,235,235)" textLength="6.7" lengthAdjust="spacingAndGlyphs" font-weight="normal">+4</text>
<circle cx="10.5" cy="573.5" r="5.0" fill="none" stroke="rgb(28,6,210)" stroke-width="1.2"/>
<text transform="translate(11.3,573.5) rotate(0)" x="0" y="2.16" text-anchor="middle" font-size="6" fill="rgb(235,235,235)" textLength="6.8" lengthAdjust="spacingAndGlyphs" font-weight="normal">+2</text>
</svg></body></html>
